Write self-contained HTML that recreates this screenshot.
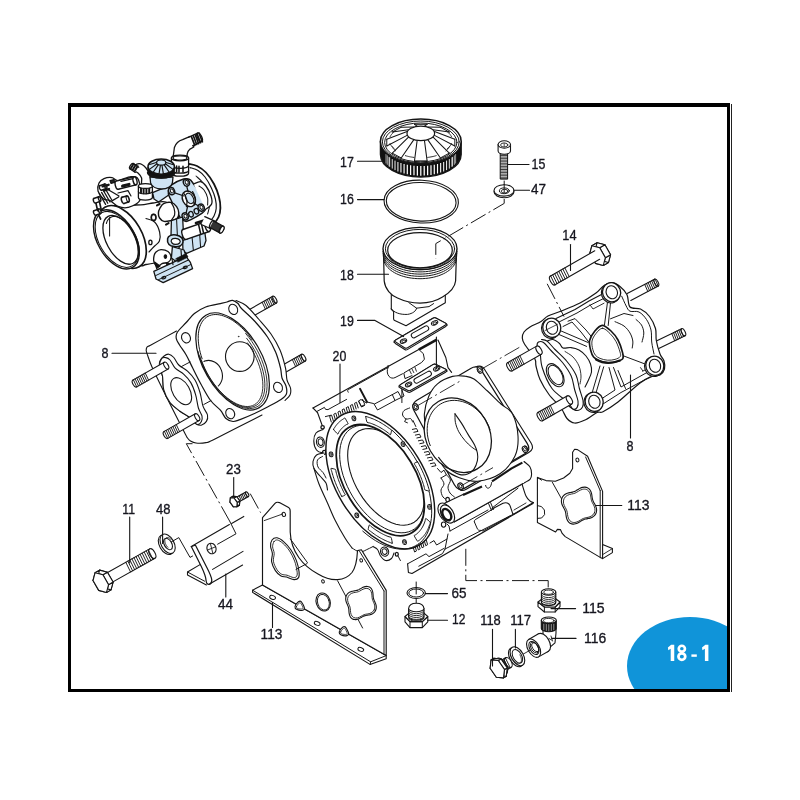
<!DOCTYPE html>
<html><head><meta charset="utf-8"><title>18-1</title>
<style>
html,body{margin:0;padding:0;background:#fff;}
body{width:800px;height:800px;overflow:hidden;position:relative;font-family:"Liberation Sans",sans-serif;}
svg{position:absolute;left:0;top:0;will-change:transform;opacity:0.999;}
svg text{font-family:"Liberation Sans",sans-serif;fill:#16161f;stroke:#16161f;stroke-width:0.35px;}
.badge{position:absolute;left:627px;top:616.5px;width:126px;height:98px;border-radius:50%;background:#1094d9;}
.clip{position:absolute;left:71px;top:107px;width:656px;height:581.5px;overflow:hidden;}
.clip .badge{left:556px;top:509.5px;}
.num{position:absolute;left:660px;top:640px;width:58px;text-align:center;color:#fff;font-weight:bold;font-size:23.6px;line-height:26px;transform:scaleX(0.715);transform-origin:50% 50%;white-space:nowrap;letter-spacing:0;}
.fr{position:absolute;background:#000;}
</style></head><body>
<svg width="800" height="800" viewBox="0 0 800 800" fill="none" stroke="#151515" stroke-width="1" stroke-linecap="round" stroke-linejoin="round">
<g stroke="#141414"><path d="M188.6 163.8C190 164.17 194.1 164.55 197 166C199.9 167.45 203.17 169.5 206 172.5C208.83 175.5 211.83 179.92 214 184C216.17 188.08 217.93 193 219 197C220.07 201 220.47 204.67 220.4 208C220.33 211.33 219.75 214.33 218.6 217C217.45 219.67 215.27 222.17 213.5 224C211.73 225.83 208.92 227.33 208 228" fill="#fff" stroke-width="1.81" /><path d="M190 167.6C191.33 168.07 195.5 168.83 198 170.4C200.5 171.97 202.77 174.07 205 177C207.23 179.93 209.67 184.33 211.4 188C213.13 191.67 214.6 195.58 215.4 199C216.2 202.42 216.43 205.67 216.2 208.5C215.97 211.33 215.1 213.75 214 216C212.9 218.25 210.33 221 209.6 222" fill="none" stroke-width="1.17" /><path d="M196 176C197.17 177.17 201 180 203 183C205 186 206.9 190.33 208 194C209.1 197.67 209.67 201.67 209.6 205C209.53 208.33 207.93 212.5 207.6 214" fill="none" stroke-width="1.03" /><path d="M110 207.5C114.33 204.25 120.33 205.98 126 205.5C131.67 205.02 139.5 205.02 144 204.6C148.5 204.18 149.33 203.43 153 203C156.67 202.57 162.17 200.5 166 202C169.83 203.5 173.33 207.33 176 212C178.67 216.67 181.33 224.33 182 230C182.67 235.67 182 241.67 180 246C178 250.33 173.67 253.33 170 256C166.33 258.67 162 260.58 158 262C154 263.42 149.33 264 146 264.5C142.67 265 143.67 267.42 138 265C132.33 262.58 118.33 256.67 112 250C105.67 243.33 100.33 232.08 100 225C99.67 217.92 105.67 210.75 110 207.5Z" fill="#fff" stroke-width="1.3" /><ellipse cx="122" cy="237" rx="34.4" ry="19.85" fill="#fff" stroke-width="1.68" transform="rotate(60 122 237)" /><path d="M146 218.5C147.43 219.08 152.33 219.75 154.6 222C156.87 224.25 158.8 228.83 159.6 232C160.4 235.17 160.23 238.67 159.4 241C158.57 243.33 156.33 244.17 154.6 246C152.87 247.83 149.93 251 149 252" fill="none" stroke-width="1.17" /><ellipse cx="150.4" cy="242.4" rx="1.6" ry="2.2" fill="none" stroke-width="1.3" /><ellipse cx="153.6" cy="217.4" rx="2.2" ry="3" fill="#fff" stroke-width="1.3" /><ellipse cx="116.4" cy="239.4" rx="32.4" ry="18.69" fill="#fff" stroke-width="1.43" transform="rotate(60 116.4 239.4)" /><ellipse cx="116.8" cy="239.4" rx="30.6" ry="17.66" fill="none" stroke-width="1.03" transform="rotate(60 116.8 239.4)" /><ellipse cx="120.6" cy="239.8" rx="26.6" ry="14.2" fill="none" stroke-width="1.3" transform="rotate(62 120.6 239.8)" /><polyline points="106.36,223.52 106.74,222.27 107.23,221.12 107.81,220.08 108.48,219.17 109.23,218.39 110.07,217.73 110.99,217.22 111.98,216.84 113.03,216.6 114.14,216.51 115.31,216.56 116.52,216.75 117.77,217.09 119.04,217.56 120.34,218.18 121.66,218.92 122.97,219.8 124.29,220.8 125.6,221.91 126.88,223.14 128.15,224.47 129.37,225.89 130.56,227.4 131.69,228.98 132.77,230.64 133.79,232.34 134.74,234.1 135.61,235.89 136.41,237.7 137.11,239.53 137.73,241.36 138.26,243.17 138.69,244.97 139.02,246.74 139.25,248.46 139.37,250.13 139.39,251.74 139.31,253.27 139.13,254.72 138.84,256.08" fill="none" stroke-width="1.03" /><line x1="109.6" y1="217.6" x2="109.6" y2="236" stroke-width="1.03" /><path d="M99 183C100 180.93 101.83 179.5 104 178.6C106.17 177.7 109.67 177.27 112 177.6C114.33 177.93 114.83 180.77 118 180.6C121.17 180.43 127.57 176.7 131 176.6C134.43 176.5 137.1 176.1 138.6 180C140.1 183.9 141.77 195.43 140 200C138.23 204.57 131.67 206.33 128 207.4C124.33 208.47 121 207.53 118 206.4C115 205.27 112.4 201.83 110 200.6C107.6 199.37 105.6 200.6 103.6 199C101.6 197.4 98.77 193.67 98 191C97.23 188.33 98 185.07 99 183Z" fill="#fff" stroke-width="1.3" /><polygon points="118.21,189.28 136.01,184.88 133.99,176.72 116.19,181.12" fill="#fff" stroke="none"/><ellipse cx="135" cy="180.8" rx="1.89" ry="4.2" fill="#fff" stroke-width="1.43" transform="rotate(-13.88 135 180.8)" /><ellipse cx="117.2" cy="185.2" rx="1.89" ry="4.2" fill="#fff" stroke-width="1.43" transform="rotate(-13.88 117.2 185.2)" /><polygon points="118.21,189.28 122.29,188.27 120.27,180.11 116.19,181.12" fill="#fff" stroke="none"/><line x1="118.21" y1="189.28" x2="136.01" y2="184.88" stroke-width="1.43" /><line x1="116.19" y1="181.12" x2="133.99" y2="176.72" stroke-width="1.43" /><path d="M121 181.4 L133 178.6" fill="none" stroke-width="1.3" /><path d="M122.6 186 L129 184.4" fill="none" stroke-width="3.11" /><path d="M110 180.6 L114 179.6 L114.6 182.4 L111 183.4 Z" fill="#222" stroke-width="1.3" /><path d="M99.4 193.6 L105.6 204.4 M101.6 192.4 L107.8 203.2 M103.8 191.2 L110 202 M106 190 L112.2 200.8" fill="none" stroke-width="1.3" /><path d="M107 189 L119 196 M112.4 200.6 L118.6 197" fill="none" stroke-width="1.3" /><polygon points="101.41,190.26 106.41,188.46 104.79,183.94 99.79,185.74" fill="#fff" stroke="none"/><ellipse cx="105.6" cy="186.2" rx="1.08" ry="2.4" fill="#fff" stroke-width="1.43" transform="rotate(-19.8 105.6 186.2)" /><ellipse cx="100.6" cy="188" rx="1.08" ry="2.4" fill="#fff" stroke-width="1.43" transform="rotate(-19.8 100.6 188)" /><polygon points="101.41,190.26 103.67,189.45 102.05,184.93 99.79,185.74" fill="#fff" stroke="none"/><line x1="101.41" y1="190.26" x2="106.41" y2="188.46" stroke-width="1.43" /><line x1="99.79" y1="185.74" x2="104.79" y2="183.94" stroke-width="1.43" /><polygon points="95.41,203.06 100.41,201.26 98.79,196.74 93.79,198.54" fill="#fff" stroke="none"/><ellipse cx="99.6" cy="199" rx="1.08" ry="2.4" fill="#fff" stroke-width="1.43" transform="rotate(-19.8 99.6 199)" /><ellipse cx="94.6" cy="200.8" rx="1.08" ry="2.4" fill="#fff" stroke-width="1.43" transform="rotate(-19.8 94.6 200.8)" /><polygon points="95.41,203.06 97.67,202.25 96.05,197.73 93.79,198.54" fill="#fff" stroke="none"/><line x1="95.41" y1="203.06" x2="100.41" y2="201.26" stroke-width="1.43" /><line x1="93.79" y1="198.54" x2="98.79" y2="196.74" stroke-width="1.43" /><polygon points="95.61,215.26 100.61,213.46 98.99,208.94 93.99,210.74" fill="#fff" stroke="none"/><ellipse cx="99.8" cy="211.2" rx="1.08" ry="2.4" fill="#fff" stroke-width="1.43" transform="rotate(-19.8 99.8 211.2)" /><ellipse cx="94.8" cy="213" rx="1.08" ry="2.4" fill="#fff" stroke-width="1.43" transform="rotate(-19.8 94.8 213)" /><polygon points="95.61,215.26 97.87,214.45 96.25,209.93 93.99,210.74" fill="#fff" stroke="none"/><line x1="95.61" y1="215.26" x2="100.61" y2="213.46" stroke-width="1.43" /><line x1="93.99" y1="210.74" x2="98.99" y2="208.94" stroke-width="1.43" /><path d="M96 203.4 L97.6 210.6 M99.6 202.4 L101.2 209.6 M98.6 215 L100.6 219" fill="none" stroke-width="1.68" /><path d="M102.6 186.4 L108.6 184.8 M104 190.6 L109 189" fill="none" stroke-width="2.33" /><polygon points="123.93,203.46 128.53,202.06 126.67,195.94 122.07,197.34" fill="#fff" stroke="none"/><ellipse cx="127.6" cy="199" rx="1.44" ry="3.2" fill="#fff" stroke-width="1.56" transform="rotate(-16.93 127.6 199)" /><ellipse cx="123" cy="200.4" rx="1.44" ry="3.2" fill="#fff" stroke-width="1.56" transform="rotate(-16.93 123 200.4)" /><polygon points="123.93,203.46 126.99,202.53 125.13,196.41 122.07,197.34" fill="#fff" stroke="none"/><line x1="123.93" y1="203.46" x2="128.53" y2="202.06" stroke-width="1.56" /><line x1="122.07" y1="197.34" x2="126.67" y2="195.94" stroke-width="1.56" /><path d="M118 193 L128 190.6 L131 196" fill="none" stroke-width="1.17" /><path d="M131.2 168.4C131.03 169.97 136.27 171.4 138 173C139.73 174.6 140.93 175.83 141.6 178C142.27 180.17 140.5 184.67 142 186C143.5 187.33 149.27 187.67 150.6 186C151.93 184.33 150.77 179 150 176C149.23 173 147.83 170.07 146 168C144.17 165.93 141.47 163.53 139 163.6C136.53 163.67 131.37 166.83 131.2 168.4Z" fill="#fff" stroke-width="1.3" /><polygon points="129.88,168.78 135.28,172.38 138.72,167.22 133.32,163.62" fill="#fff" stroke="none"/><ellipse cx="131.6" cy="166.2" rx="1.4" ry="3.1" fill="#fff" stroke-width="1.3" transform="rotate(33.69 131.6 166.2)" /><polygon points="129.88,168.78 132.46,170.5 135.9,165.34 133.32,163.62" fill="#fff" stroke="none"/><line x1="129.88" y1="168.78" x2="135.28" y2="172.38" stroke-width="1.3" /><line x1="133.32" y1="163.62" x2="138.72" y2="167.22" stroke-width="1.3" /><path d="M130.6 168.8 L133.6 163.8 M132.6 170 L135.6 165 M134.6 171.2 L137.6 166.2" fill="none" stroke-width="1.95" /><path d="M138.4 186 L138.4 197.6 A7 2.6 0 0 0 152.4 197.6 L152.4 186 Z" fill="#fff" stroke-width="1.3" /><path d="M138.4 191.4 A7 2.4 0 0 0 152.4 191.4" fill="none" stroke-width="1.17" /><path d="M141 187.4 L141 192.4 M143.6 188 L143.6 193.2 M146.4 188 L146.4 193.2 M149.2 187.6 L149.2 192.8" fill="none" stroke-width="1.95" /><ellipse cx="145.4" cy="186" rx="7" ry="2.4" fill="#fff" stroke-width="1.3" /><path d="M173 158 L174.4 147.5 C176 142.6 179 140.6 182.6 139.6 L190.2 136.4 L193.8 147 L189.6 149.4 C188 150.6 187.5 152 187.2 154 L187 158 Z" fill="#fff" stroke-width="1.3" /><polygon points="192.66,145.82 201.66,141.42 197.54,132.98 188.54,137.38" fill="#fff" stroke="none"/><ellipse cx="199.6" cy="137.2" rx="2.12" ry="4.7" fill="#fff" stroke-width="1.3" transform="rotate(-26.05 199.6 137.2)" /><line x1="192.66" y1="145.82" x2="201.66" y2="141.42" stroke-width="1.3" /><line x1="188.54" y1="137.38" x2="197.54" y2="132.98" stroke-width="1.3" /><line x1="191.4" y1="136.6" x2="194.8" y2="145.4" stroke-width="1.68" /><line x1="193.3" y1="135.7" x2="196.7" y2="144.5" stroke-width="1.68" /><line x1="195.2" y1="134.8" x2="198.6" y2="143.6" stroke-width="1.68" /><line x1="197.1" y1="133.9" x2="200.5" y2="142.7" stroke-width="1.68" /><line x1="199" y1="133" x2="202.4" y2="141.8" stroke-width="1.68" /><path d="M171.4 158 L171.4 173.2 A8.6 3 0 0 0 188.6 173.2 L188.6 158 Z" fill="#fff" stroke-width="1.3" /><path d="M171.4 165.6 A8.6 2.8 0 0 0 188.6 165.6 M171.4 170.4 A8.6 2.8 0 0 0 188.6 170.4" fill="none" stroke-width="1.17" /><path d="M176.6 166 L176.6 171.8 M179 166.4 L179 172.2 M183 166.2 L183 172" fill="none" stroke-width="1.56" /><ellipse cx="180" cy="158" rx="8.6" ry="2.8" fill="#fff" stroke-width="1.3" /><ellipse cx="180" cy="158" rx="6.8" ry="2" fill="none" stroke-width="1.03" /><polygon points="152.6,192.6 171.6,184.6 176,190 158.6,202 154,199" fill="#cfe4f4" stroke-width="1.3" /><path d="M168.8 189C169.4 187.43 169.53 186.27 172 184.6C174.47 182.93 180.67 179.87 183.6 179C186.53 178.13 187.93 178.57 189.6 179.4C191.27 180.23 191.87 181.73 193.6 184C195.33 186.27 198.17 189.83 200 193C201.83 196.17 203.7 200.23 204.6 203C205.5 205.77 205.93 207.83 205.4 209.6C204.87 211.37 203.8 211.93 201.4 213.6C199 215.27 193.63 218.3 191 219.6C188.37 220.9 187.33 221.67 185.6 221.4C183.87 221.13 182.2 219.9 180.6 218C179 216.1 177.6 213 176 210C174.4 207 172.27 202.67 171 200C169.73 197.33 168.77 195.83 168.4 194C168.03 192.17 168.2 190.57 168.8 189Z" fill="#cfe4f4" stroke-width="1.43" /><path d="M193.6 184C194.77 183.6 198.53 181.27 200.6 181.6C202.67 181.93 204.27 183.6 206 186C207.73 188.4 210.07 193 211 196C211.93 199 212.53 201.73 211.6 204C210.67 206.27 206.43 208.67 205.4 209.6" fill="#fff" stroke-width="1.3" /><path d="M199 186C199.83 186.67 202.57 188 204 190C205.43 192 207 195.5 207.6 198C208.2 200.5 207.6 203.83 207.6 205" fill="none" stroke-width="1.03" /><ellipse cx="188.8" cy="198.8" rx="6.2" ry="8.2" fill="#fff" stroke-width="1.43" transform="rotate(-28 188.8 198.8)" /><ellipse cx="189.6" cy="198.4" rx="3.6" ry="5.6" fill="#cfe4f4" stroke-width="1.17" transform="rotate(-28 189.6 198.4)" /><path d="M184 193.6 C186.6 197 187.6 202 186.4 206.6 M192.6 191.6 C195 195 196 200 194.6 205" fill="none" stroke-width="1.17" /><path d="M174 192.6 L184 196 M186.6 185.6 L188 191.4 M198.6 206 L193.6 203 M186 213.6 L187.6 206.4" fill="none" stroke-width="1.3" /><ellipse cx="171.6" cy="191.2" rx="3" ry="3.6" fill="#cfe4f4" stroke-width="1.43" transform="rotate(-20 171.6 191.2)" /><ellipse cx="171.9" cy="191" rx="1.5" ry="2" fill="#fff" stroke-width="1.03" transform="rotate(-20 171.9 191)" /><ellipse cx="186.4" cy="182.6" rx="3" ry="3.6" fill="#cfe4f4" stroke-width="1.43" transform="rotate(-20 186.4 182.6)" /><ellipse cx="186.7" cy="182.4" rx="1.5" ry="2" fill="#fff" stroke-width="1.03" transform="rotate(-20 186.7 182.4)" /><ellipse cx="201.2" cy="207.6" rx="3" ry="3.6" fill="#cfe4f4" stroke-width="1.43" transform="rotate(-20 201.2 207.6)" /><ellipse cx="201.5" cy="207.4" rx="1.5" ry="2" fill="#fff" stroke-width="1.03" transform="rotate(-20 201.5 207.4)" /><ellipse cx="185.2" cy="216.4" rx="3" ry="3.6" fill="#cfe4f4" stroke-width="1.43" transform="rotate(-20 185.2 216.4)" /><ellipse cx="185.5" cy="216.2" rx="1.5" ry="2" fill="#fff" stroke-width="1.03" transform="rotate(-20 185.5 216.2)" /><ellipse cx="196.4" cy="211.2" rx="2.2" ry="2.8" fill="#cfe4f4" stroke-width="1.3" transform="rotate(-20 196.4 211.2)" /><ellipse cx="191" cy="214.2" rx="2.2" ry="2.8" fill="#cfe4f4" stroke-width="1.3" transform="rotate(-20 191 214.2)" /><path d="M160 208C160.87 206.43 161.77 204.53 163.6 203.6C165.43 202.67 168.83 201.9 171 202.4C173.17 202.9 175.3 204.83 176.6 206.6C177.9 208.37 178.73 211 178.8 213C178.87 215 178.3 217.33 177 218.6C175.7 219.87 173.17 220.13 171 220.6C168.83 221.07 165.9 221.83 164 221.4C162.1 220.97 160.53 219.4 159.6 218C158.67 216.6 158.33 214.67 158.4 213C158.47 211.33 159.13 209.57 160 208Z" fill="#fff" stroke-width="1.43" /><path d="M171 202.4C171.5 203.33 173.4 205.9 174 208C174.6 210.1 175.1 212.9 174.6 215C174.1 217.1 171.6 219.67 171 220.6" fill="none" stroke-width="1.17" /><ellipse cx="153.6" cy="217.4" rx="2.3" ry="3" fill="#fff" stroke-width="1.56" /><path d="M157 205.4 L159.6 204 M166 224.6 L168.6 223.2" fill="none" stroke-width="2.08" /><polygon points="171.4,220.6 182.6,217 183.6,236 181,241 172.4,243 171,236" fill="#cfe4f4" stroke-width="1.3" /><path d="M176.6 219.6 L177.6 240" fill="none" stroke-width="1.03" /><polygon points="182.6,240.6 204.6,231 206,240.6 204,246 186.6,253.4 183,251" fill="#cfe4f4" stroke-width="1.3" /><path d="M192 236.6 L193.4 250.6 M199.6 233.4 L200.6 247.4" fill="none" stroke-width="1.03" /><polygon points="186.27,239.32 209.27,231.52 205.93,221.68 182.93,229.48" fill="#fff" stroke="none"/><ellipse cx="207.6" cy="226.6" rx="2.34" ry="5.2" fill="#fff" stroke-width="1.43" transform="rotate(-18.73 207.6 226.6)" /><ellipse cx="184.6" cy="234.4" rx="2.34" ry="5.2" fill="#fff" stroke-width="1.43" transform="rotate(-18.73 184.6 234.4)" /><polygon points="186.27,239.32 191.19,237.65 187.85,227.81 182.93,229.48" fill="#fff" stroke="none"/><line x1="186.27" y1="239.32" x2="209.27" y2="231.52" stroke-width="1.43" /><line x1="182.93" y1="229.48" x2="205.93" y2="221.68" stroke-width="1.43" /><path d="M198.6 224.6 L200.8 234.4 M201.4 223.6 L203.6 233.2" fill="none" stroke-width="1.56" /><path d="M196 223 L204 220.4" fill="none" stroke-width="2.6" /><path d="M167.6 238.6C167.87 237.07 169.2 236 170.6 235.4C172 234.8 174.17 234.63 176 235C177.83 235.37 180.43 236.43 181.6 237.6C182.77 238.77 183.17 240.67 183 242C182.83 243.33 182 244.83 180.6 245.6C179.2 246.37 176.53 246.77 174.6 246.6C172.67 246.43 170.17 245.93 169 244.6C167.83 243.27 167.33 240.13 167.6 238.6Z" fill="#cfe4f4" stroke-width="1.56" /><path d="M171.6 239.6C172.2 238.83 174.27 238.33 175.6 238.4C176.93 238.47 178.93 239.23 179.6 240C180.27 240.77 180.27 242.27 179.6 243C178.93 243.73 176.87 244.4 175.6 244.4C174.33 244.4 172.67 243.8 172 243C171.33 242.2 171 240.37 171.6 239.6Z" fill="#fff" stroke-width="1.17" /><polygon points="201.25,224.53 210.25,228.53 213.75,220.67 204.75,216.67" fill="#fff" stroke="none"/><ellipse cx="212" cy="224.6" rx="1.94" ry="4.3" fill="#fff" stroke-width="1.3" transform="rotate(23.96 212 224.6)" /><line x1="201.25" y1="224.53" x2="210.25" y2="228.53" stroke-width="1.3" /><line x1="204.75" y1="216.67" x2="213.75" y2="220.67" stroke-width="1.3" /><polygon points="209.79,227.54 219.79,232.94 223.41,226.26 213.41,220.86" fill="#333" stroke="none"/><ellipse cx="221.6" cy="229.6" rx="1.71" ry="3.8" fill="#333" stroke-width="1.3" transform="rotate(28.37 221.6 229.6)" /><line x1="209.79" y1="227.54" x2="219.79" y2="232.94" stroke-width="1.3" /><line x1="213.41" y1="220.86" x2="223.41" y2="226.26" stroke-width="1.3" /><ellipse cx="221.8" cy="229.7" rx="1.7" ry="3.7" fill="#fff" stroke-width="1.17" transform="rotate(28 221.8 229.7)" /><polygon points="172.4,246.6 184,250 186,256 176,261.6 171.4,258" fill="#cfe4f4" stroke-width="1.3" /><path d="M156 252C157.17 250.93 159 249.67 161 249.6C163 249.53 166.33 250.37 168 251.6C169.67 252.83 170.9 255.27 171 257C171.1 258.73 170.1 260.9 168.6 262C167.1 263.1 163.83 262.83 162 263.6C160.17 264.37 158.93 266.87 157.6 266.6C156.27 266.33 154.6 263.77 154 262C153.4 260.23 153.67 257.67 154 256C154.33 254.33 154.83 253.07 156 252Z" fill="#fff" stroke-width="1.3" /><ellipse cx="165.4" cy="256.6" rx="1.3" ry="1.8" fill="#111" stroke-width="1.03" /><path d="M154.6 262 L156.6 268.6 L160 266 Z" fill="#111" stroke-width="1.03" /><path d="M166 263 L168.6 268 L172 264 Z" fill="#111" stroke-width="1.03" /><polygon points="153.8,271.4 186,256.4 190.4,262.4 192.6,268.6 163.2,282.6 156,279" fill="#cfe4f4" stroke-width="1.3" /><path d="M155.6 275.6 L188.4 260 M158.6 279.6 L190.6 264.6" fill="none" stroke-width="1.03" /><ellipse cx="163.8" cy="277.6" rx="2" ry="1.1" fill="none" stroke-width="1.3" transform="rotate(-20 163.8 277.6)" /><ellipse cx="185.2" cy="267.4" rx="2" ry="1.1" fill="none" stroke-width="1.3" transform="rotate(-20 185.2 267.4)" /><path d="M181 250 L181.6 258 M172 259 L173 264.6" fill="none" stroke-width="1.17" /><path d="M176 258.6 L186 253.6 L188 257 L178 262 Z" fill="#111" stroke-width="0.78" /><path d="M150 177 L150.6 183 C152 187 157 189 161.6 189 C167 189 171.6 186.6 172.4 183 L173 177 Z" fill="#cfe4f4" stroke-width="1.3" /><path d="M148 167.6 L148.4 173.6 A12.8 4.4 0 0 0 174 173.6 L174.4 167.6 Z" fill="#111" stroke-width="1.3" /><path d="M148 172.6 A13 4.8 0 0 0 174.4 172.6" fill="none" stroke-width="2.33" /><ellipse cx="161.2" cy="166.6" rx="13.2" ry="7.6" fill="#cfe4f4" stroke-width="1.56" /><line x1="165.33" y1="163.75" x2="172.66" y2="169.13" stroke-width="1.17" /><line x1="164.03" y1="164.69" x2="169.04" y2="172.01" stroke-width="1.17" /><line x1="161.96" y1="165.17" x2="163.32" y2="173.5" stroke-width="1.17" /><line x1="160.44" y1="165.17" x2="159.08" y2="173.5" stroke-width="1.17" /><line x1="158.37" y1="164.69" x2="153.36" y2="172.01" stroke-width="1.17" /><line x1="157.07" y1="163.75" x2="149.74" y2="169.13" stroke-width="1.17" /><line x1="157.07" y1="162.25" x2="149.74" y2="164.47" stroke-width="1.17" /><line x1="165.33" y1="162.25" x2="172.66" y2="164.47" stroke-width="1.17" /><ellipse cx="161.2" cy="162.6" rx="4.6" ry="2.6" fill="#cfe4f4" stroke-width="1.17" /></g>
<polygon points="572.6,452.2 574.6,449.2 577.5,449.6 587.6,456.2 602.6,491.4 602.6,558.6 600.2,557.4 565.2,536.6 562.2,533.4 560.4,529.6 557.4,529.4 555.6,532 537.4,522.4 537.4,477.4 546,480.6 555.4,481.2 563.6,478 569.8,473.2 572.6,468.5" fill="#fff" stroke-width="1.1" /><path d="M600.2 490.6 L600.2 557.4 M585.6 457 L600.2 490.6" fill="none" stroke-width="0.99" /><polygon points="602.6,558.6 612.4,552.6 612.4,548.6 602.6,544.4" fill="#fff" stroke-width="1.1" /><path d="M612.4 548.6 L603 554.4" fill="none" stroke-width="0.88" /><path d="M552.4 482.4 L565 505 M537.4 477.4 L541.6 480.2" fill="none" stroke-width="0.99" /><path d="M537.4 505.6 L541.5 506.6 L544.4 510 L544.6 514.6 L541.6 518 L537.4 518.4" fill="none" stroke-width="0.99" /><ellipse cx="577.4" cy="460" rx="1.5" ry="1.9" fill="none" stroke-width="0.99" transform="rotate(-20 577.4 460)" /><path d="M595.9 513.48C595.54 514.25 595.01 514.98 594.42 515.6C593.83 516.21 593.08 516.73 592.34 517.15C591.61 517.56 590.77 517.86 589.99 518.11C589.2 518.36 588.39 518.5 587.65 518.66C586.91 518.82 586.2 518.91 585.53 519.08C584.87 519.24 584.26 519.4 583.65 519.65C583.04 519.89 582.48 520.19 581.87 520.53C581.26 520.88 580.67 521.3 580 521.7C579.34 522.1 578.64 522.57 577.89 522.92C577.14 523.28 576.33 523.64 575.51 523.84C574.7 524.04 573.83 524.16 573.01 524.11C572.2 524.06 571.37 523.86 570.64 523.52C569.92 523.18 569.23 522.67 568.67 522.08C568.11 521.49 567.64 520.74 567.27 519.99C566.9 519.24 566.65 518.39 566.44 517.58C566.24 516.78 566.14 515.95 566.02 515.18C565.9 514.42 565.84 513.69 565.71 513C565.59 512.31 565.46 511.69 565.25 511.07C565.04 510.44 564.78 509.88 564.48 509.26C564.17 508.64 563.79 508.04 563.43 507.37C563.08 506.7 562.66 505.99 562.35 505.23C562.04 504.47 561.73 503.63 561.58 502.8C561.42 501.96 561.34 501.06 561.43 500.21C561.52 499.37 561.74 498.49 562.1 497.72C562.46 496.95 562.99 496.22 563.58 495.6C564.17 494.99 564.92 494.47 565.66 494.05C566.39 493.64 567.23 493.34 568.01 493.09C568.8 492.84 569.61 492.7 570.35 492.54C571.09 492.38 571.8 492.29 572.47 492.12C573.13 491.96 573.74 491.8 574.35 491.55C574.96 491.31 575.52 491.01 576.13 490.67C576.74 490.32 577.33 489.9 578 489.5C578.66 489.1 579.36 488.63 580.11 488.28C580.86 487.92 581.67 487.56 582.49 487.36C583.3 487.16 584.17 487.04 584.99 487.09C585.8 487.14 586.63 487.34 587.36 487.68C588.08 488.02 588.77 488.53 589.33 489.12C589.89 489.71 590.36 490.46 590.73 491.21C591.1 491.96 591.35 492.81 591.56 493.62C591.76 494.42 591.86 495.25 591.98 496.02C592.1 496.78 592.16 497.51 592.29 498.2C592.41 498.89 592.54 499.51 592.75 500.13C592.96 500.76 593.22 501.32 593.52 501.94C593.83 502.56 594.21 503.16 594.57 503.83C594.92 504.5 595.34 505.21 595.65 505.97C595.96 506.73 596.27 507.57 596.42 508.4C596.58 509.24 596.66 510.14 596.57 510.99C596.48 511.83 596.26 512.71 595.9 513.48Z" fill="#fff" stroke-width="1.1" /><path d="M594.36 512.87C594.03 513.56 593.56 514.23 593.03 514.78C592.49 515.33 591.82 515.8 591.16 516.18C590.49 516.56 589.74 516.83 589.04 517.06C588.33 517.29 587.61 517.41 586.94 517.56C586.27 517.71 585.64 517.79 585.04 517.94C584.44 518.09 583.89 518.24 583.34 518.46C582.8 518.68 582.29 518.95 581.75 519.26C581.2 519.57 580.66 519.96 580.06 520.32C579.47 520.68 578.84 521.1 578.16 521.42C577.49 521.75 576.76 522.07 576.03 522.25C575.3 522.43 574.51 522.55 573.78 522.5C573.05 522.46 572.3 522.28 571.65 521.98C571.01 521.68 570.39 521.22 569.89 520.69C569.38 520.16 568.97 519.48 568.63 518.81C568.3 518.13 568.08 517.36 567.9 516.64C567.71 515.91 567.63 515.16 567.52 514.47C567.41 513.78 567.37 513.12 567.25 512.5C567.14 511.88 567.02 511.32 566.84 510.76C566.66 510.2 566.42 509.69 566.15 509.13C565.88 508.58 565.53 508.03 565.22 507.43C564.9 506.82 564.53 506.19 564.25 505.5C563.98 504.82 563.7 504.07 563.56 503.31C563.42 502.56 563.35 501.74 563.43 500.98C563.51 500.22 563.72 499.43 564.04 498.73C564.37 498.04 564.84 497.37 565.37 496.82C565.91 496.27 566.58 495.8 567.24 495.42C567.91 495.04 568.66 494.77 569.36 494.54C570.07 494.31 570.79 494.19 571.46 494.04C572.13 493.89 572.76 493.81 573.36 493.66C573.96 493.51 574.51 493.36 575.06 493.14C575.6 492.92 576.11 492.65 576.65 492.34C577.2 492.03 577.74 491.64 578.34 491.28C578.93 490.92 579.56 490.5 580.24 490.18C580.91 489.85 581.64 489.53 582.37 489.35C583.1 489.17 583.89 489.05 584.62 489.1C585.35 489.14 586.1 489.32 586.75 489.62C587.39 489.92 588.01 490.38 588.51 490.91C589.02 491.44 589.43 492.12 589.77 492.79C590.1 493.47 590.32 494.24 590.5 494.96C590.69 495.69 590.77 496.44 590.88 497.13C590.99 497.82 591.03 498.48 591.15 499.1C591.26 499.72 591.38 500.28 591.56 500.84C591.74 501.4 591.98 501.91 592.25 502.47C592.52 503.02 592.87 503.57 593.18 504.17C593.5 504.78 593.87 505.41 594.15 506.1C594.42 506.78 594.7 507.53 594.84 508.29C594.98 509.04 595.05 509.86 594.97 510.62C594.89 511.38 594.68 512.17 594.36 512.87Z" fill="#fff" stroke-width="0.88" />
<polygon points="630.81,300.45 658.21,286.05 654.59,279.15 627.19,293.55" fill="#fff" stroke="none"/><ellipse cx="656.4" cy="282.6" rx="1.75" ry="3.9" fill="#fff" stroke-width="1.1" transform="rotate(-27.72 656.4 282.6)" /><line x1="630.81" y1="300.45" x2="658.21" y2="286.05" stroke-width="1.1" /><line x1="627.19" y1="293.55" x2="654.59" y2="279.15" stroke-width="1.1" /><line x1="647.8" y1="291.52" x2="644.7" y2="284.34" stroke-width="0.94" /><line x1="649.53" y1="290.62" x2="646.43" y2="283.43" stroke-width="0.94" /><line x1="651.25" y1="289.71" x2="648.16" y2="282.53" stroke-width="0.94" /><line x1="652.98" y1="288.8" x2="649.88" y2="281.62" stroke-width="0.94" /><line x1="654.71" y1="287.9" x2="651.61" y2="280.71" stroke-width="0.94" /><line x1="656.43" y1="286.99" x2="653.34" y2="279.8" stroke-width="0.94" /><line x1="658.16" y1="286.08" x2="655.06" y2="278.9" stroke-width="0.94" /><polygon points="657.71,349.1 685.11,335.7 681.69,328.7 654.29,342.1" fill="#fff" stroke="none"/><ellipse cx="683.4" cy="332.2" rx="1.75" ry="3.9" fill="#fff" stroke-width="1.1" transform="rotate(-26.06 683.4 332.2)" /><line x1="657.71" y1="349.1" x2="685.11" y2="335.7" stroke-width="1.1" /><line x1="654.29" y1="342.1" x2="681.69" y2="328.7" stroke-width="1.1" /><line x1="674.7" y1="340.8" x2="671.81" y2="333.52" stroke-width="0.94" /><line x1="676.45" y1="339.94" x2="673.57" y2="332.67" stroke-width="0.94" /><line x1="678.2" y1="339.08" x2="675.32" y2="331.81" stroke-width="0.94" /><line x1="679.96" y1="338.23" x2="677.07" y2="330.95" stroke-width="0.94" /><line x1="681.71" y1="337.37" x2="678.82" y2="330.1" stroke-width="0.94" /><line x1="683.46" y1="336.51" x2="680.57" y2="329.24" stroke-width="0.94" /><path d="M603.5 286C606.17 284.27 609.25 282.52 612 282.6C614.75 282.68 617.5 284.48 620 286.5C622.5 288.52 625.33 291.28 627 294.7C628.67 298.12 627.75 304.62 630 307C632.25 309.38 637.25 307.42 640.5 309C643.75 310.58 647 313.25 649.5 316.5C652 319.75 654.37 324.5 655.5 328.5C656.63 332.5 655.55 336.25 656.3 340.5C657.05 344.75 658.72 350.58 660 354C661.28 357.42 663.25 358.5 664 361C664.75 363.5 665.17 366.67 664.5 369C663.83 371.33 662.08 373.75 660 375C657.92 376.25 655.33 375.17 652 376.5C648.67 377.83 645.67 378.75 640 383C634.33 387.25 624.17 397.22 618 402C611.83 406.78 606.5 409.95 603 411.7C599.5 413.45 600 411.12 597 412.5C594 413.88 588.75 418.25 585 420C581.25 421.75 577.5 423.25 574.5 423C571.5 422.75 569.25 421 567 418.5C564.75 416 564 412 561 408C558 404 552.5 399.25 549 394.5C545.5 389.75 542.17 384.25 540 379.5C537.83 374.75 536.88 369.5 536 366C535.12 362.5 536.62 362.17 534.7 358.5C532.78 354.83 526.57 347.42 524.5 344C522.43 340.58 522.38 340 522.3 338C522.22 336 522.72 333.83 524 332C525.28 330.17 527.17 328.75 530 327C532.83 325.25 538 323.33 541 321.5C544 319.67 544.83 317.67 548 316C551.17 314.33 554.67 313.67 560 311.5C565.33 309.33 574 306.08 580 303C586 299.92 592.08 295.83 596 293C599.92 290.17 600.83 287.73 603.5 286Z" fill="#fff" stroke-width="1.21" /><path d="M621.7 296.2C622.45 297.83 624.82 303.5 626.2 306C627.58 308.5 627.87 310.2 630 311.2C632.13 312.2 636.25 310.62 639 312C641.75 313.38 644.5 316.5 646.5 319.5C648.5 322.5 650.13 326.25 651 330C651.87 333.75 651.2 338 651.7 342C652.2 346 653.62 352 654 354" fill="none" stroke-width="0.99" /><path d="M556 318.5 L575 309.5 L589 301 L601.5 294.5" fill="none" stroke-width="1.1" /><path d="M559 322 L577 313 L590.5 305 L603 298.8" fill="none" stroke-width="0.99" /><path d="M590 304.8 L593 309 L604 303.2" fill="none" stroke-width="0.88" /><path d="M563 326.5 L572 322 L581 332 L589.5 343" fill="none" stroke-width="0.99" /><path d="M568 321.2 L575 318.6 L586 330 L592.5 338" fill="none" stroke-width="0.99" /><path d="M560 330.5 L588 342.5 M559 334.5 L586.6 346.4" fill="none" stroke-width="0.99" /><path d="M547.5 341C548.42 340.75 551 339.08 553 339.5C555 339.92 557.83 342.08 559.5 343.5C561.17 344.92 561.08 347.32 563 348C564.92 348.68 568.33 347.27 571 347.6C573.67 347.93 576.5 348.6 579 350C581.5 351.4 584.08 353.67 586 356C587.92 358.33 589.58 361.33 590.5 364C591.42 366.67 591.92 369.17 591.5 372C591.08 374.83 589.08 378.5 588 381C586.92 383.5 585.5 386 585 387" fill="none" stroke-width="1.1" /><path d="M565 351.5C566.33 352.42 570.67 354.58 573 357C575.33 359.42 577.67 362.83 579 366C580.33 369.17 580.83 373 581 376C581.17 379 580.17 382.67 580 384" fill="none" stroke-width="0.88" /><path d="M610.5 318.8 L624 313.5 L633 315.5" fill="none" stroke-width="0.99" /><path d="M615 321.7C616.5 322.42 621.5 324.12 624 326C626.5 327.88 628.53 330.5 630 333C631.47 335.5 632.43 338.5 632.8 341C633.17 343.5 632.3 346.83 632.2 348" fill="none" stroke-width="0.99" /><path d="M636 319.5C636.92 320.42 640.2 322.75 641.5 325C642.8 327.25 643.72 330.17 643.8 333C643.88 335.83 642.3 340.5 642 342" fill="none" stroke-width="0.99" /><path d="M607.5 302.2 L604.5 324.7 M610.5 303 L608.2 325.5" fill="none" stroke-width="0.99" /><path d="M622.5 355.5 L645 364" fill="none" stroke-width="0.99" /><path d="M642.5 371.2 L646 369.6 M640.5 367.6 L642.8 370.8" fill="none" stroke-width="0.88" /><path d="M600 366 L592.5 391.5 M603.7 366.8 L596.2 392.2" fill="none" stroke-width="0.99" /><path d="M609 367.5 L615 390 L600.5 399.5 M613.5 367.5 L621 387 L647 372.5 M618 370.5 L625.5 388.5" fill="none" stroke-width="0.99" /><path d="M603 404 L621 392.5 L650 377" fill="none" stroke-width="0.99" /><path d="M602.2 325.4C604.95 325.32 608.37 328.57 611 331C613.63 333.43 616.1 336.5 618 340C619.9 343.5 621.6 348.9 622.4 352C623.2 355.1 623.87 356.97 622.8 358.6C621.73 360.23 618.55 361.13 616 361.8C613.45 362.47 610.33 362.83 607.5 362.6C604.67 362.37 601.32 361.33 599 360.4C596.68 359.47 595 358.73 593.6 357C592.2 355.27 591.27 352.75 590.6 350C589.93 347.25 588.95 343.58 589.6 340.5C590.25 337.42 592.4 334.02 594.5 331.5C596.6 328.98 599.45 325.48 602.2 325.4Z" fill="#fff" stroke-width="1.65" /><path d="M602.4 328.2C604.73 328.2 607.73 331.28 610 333.5C612.27 335.72 614.33 338.42 616 341.5C617.67 344.58 619.3 349.48 620 352C620.7 354.52 621.03 355.37 620.2 356.6C619.37 357.83 617.12 358.8 615 359.4C612.88 360 610 360.37 607.5 360.2C605 360.03 602.02 359.23 600 358.4C597.98 357.57 596.6 356.68 595.4 355.2C594.2 353.72 593.37 351.87 592.8 349.5C592.23 347.13 591.47 343.67 592 341C592.53 338.33 594.27 335.63 596 333.5C597.73 331.37 600.07 328.2 602.4 328.2Z" fill="none" stroke-width="0.88" /><path d="M596 359.6 C603 363.6 612 363.8 620 360.6" fill="none" stroke-width="2.2" /><path d="M541.5 339.5C542.42 339.75 544.75 339.33 547 341C549.25 342.67 551.67 346.08 555 349.5C558.33 352.92 563.5 357.25 567 361.5C570.5 365.75 573.93 370.5 576 375C578.07 379.5 578.23 384.25 579.4 388.5C580.57 392.75 582.48 397.42 583 400.5C583.52 403.58 583.5 405.33 582.5 407C581.5 408.67 579.08 410.5 577 410.5C574.92 410.5 572 408.58 570 407C568 405.42 565.83 402 565 401" fill="#fff" stroke-width="1.1" /><path d="M538.5 342C539.55 341.42 541.42 341.08 543.5 342.5C545.58 343.92 547.83 347.17 551 350.5C554.17 353.83 559.13 358.25 562.5 362.5C565.87 366.75 569.18 371.5 571.2 376C573.22 380.5 573.47 385.33 574.6 389.5C575.73 393.67 577.57 398.02 578 401C578.43 403.98 578.03 406.07 577.2 407.4C576.37 408.73 574.62 409.9 573 409C571.38 408.1 571 405.42 567.5 402C564 398.58 556.22 394.25 552 388.5C547.78 382.75 544.2 373.75 542.2 367.5C540.2 361.25 540.83 354.58 540 351C539.17 347.42 537.45 347.5 537.2 346C536.95 344.5 537.45 342.58 538.5 342Z" fill="#fff" stroke-width="1.1" /><ellipse cx="555.2" cy="375.2" rx="12.6" ry="7.27" fill="#fff" stroke-width="1.1" transform="rotate(60 555.2 375.2)" /><ellipse cx="555.6" cy="375" rx="10.6" ry="6.12" fill="none" stroke-width="0.99" transform="rotate(60 555.6 375)" /><ellipse cx="610.6" cy="293.1" rx="9.2" ry="9.9" fill="#fff" stroke-width="1.1" transform="rotate(-20 610.6 293.1)" /><ellipse cx="611.6" cy="292.3" rx="9" ry="9.7" fill="#fff" stroke-width="1.32" transform="rotate(-20 611.6 292.3)" /><ellipse cx="611.8" cy="292.3" rx="5.6" ry="6.6" fill="#fff" stroke-width="1.1" transform="rotate(-20 611.8 292.3)" /><ellipse cx="550.8" cy="328.6" rx="9.2" ry="9.9" fill="#fff" stroke-width="1.1" transform="rotate(-20 550.8 328.6)" /><ellipse cx="551.8" cy="327.8" rx="9" ry="9.7" fill="#fff" stroke-width="1.32" transform="rotate(-20 551.8 327.8)" /><ellipse cx="552" cy="327.8" rx="5.6" ry="6.6" fill="#fff" stroke-width="1.1" transform="rotate(-20 552 327.8)" /><ellipse cx="653.8" cy="366.6" rx="9.2" ry="9.9" fill="#fff" stroke-width="1.1" transform="rotate(-20 653.8 366.6)" /><ellipse cx="654.8" cy="365.8" rx="9" ry="9.7" fill="#fff" stroke-width="1.32" transform="rotate(-20 654.8 365.8)" /><ellipse cx="655" cy="365.8" rx="5.6" ry="6.6" fill="#fff" stroke-width="1.1" transform="rotate(-20 655 365.8)" /><ellipse cx="593.2" cy="402.6" rx="9.2" ry="9.9" fill="#fff" stroke-width="1.1" transform="rotate(-20 593.2 402.6)" /><ellipse cx="594.2" cy="401.8" rx="9" ry="9.7" fill="#fff" stroke-width="1.32" transform="rotate(-20 594.2 401.8)" /><ellipse cx="594.4" cy="401.8" rx="5.6" ry="6.6" fill="#fff" stroke-width="1.1" transform="rotate(-20 594.4 401.8)" /><path d="M545 330.5 L557.5 324.3" fill="none" stroke-width="0.77" /><polygon points="512.12,370.89 541.32,354.29 536.68,346.11 507.48,362.71" fill="#fff" stroke="none"/><ellipse cx="539" cy="350.2" rx="2.35" ry="4.7" fill="#fff" stroke-width="1.1" transform="rotate(-29.62 539 350.2)" /><ellipse cx="509.8" cy="366.8" rx="2.35" ry="4.7" fill="#fff" stroke-width="1.1" transform="rotate(-29.62 509.8 366.8)" /><polygon points="512.12,370.89 516.21,368.56 511.56,360.39 507.48,362.71" fill="#fff" stroke="none"/><line x1="512.12" y1="370.89" x2="541.32" y2="354.29" stroke-width="1.1" /><line x1="507.48" y1="362.71" x2="536.68" y2="346.11" stroke-width="1.1" /><line x1="512.12" y1="370.89" x2="508" y2="362.42" stroke-width="0.94" /><line x1="513.82" y1="369.92" x2="509.69" y2="361.45" stroke-width="0.94" /><line x1="515.51" y1="368.96" x2="511.39" y2="360.49" stroke-width="0.94" /><line x1="517.21" y1="367.99" x2="513.08" y2="359.53" stroke-width="0.94" /><line x1="518.9" y1="367.03" x2="514.78" y2="358.56" stroke-width="0.94" /><line x1="520.6" y1="366.07" x2="516.47" y2="357.6" stroke-width="0.94" /><line x1="522.29" y1="365.1" x2="518.17" y2="356.64" stroke-width="0.94" /><line x1="523.99" y1="364.14" x2="519.87" y2="355.67" stroke-width="0.94" /><polygon points="542.52,420.69 571.72,404.09 567.08,395.91 537.88,412.51" fill="#fff" stroke="none"/><ellipse cx="569.4" cy="400" rx="2.35" ry="4.7" fill="#fff" stroke-width="1.1" transform="rotate(-29.62 569.4 400)" /><ellipse cx="540.2" cy="416.6" rx="2.35" ry="4.7" fill="#fff" stroke-width="1.1" transform="rotate(-29.62 540.2 416.6)" /><polygon points="542.52,420.69 546.61,418.36 541.96,410.19 537.88,412.51" fill="#fff" stroke="none"/><line x1="542.52" y1="420.69" x2="571.72" y2="404.09" stroke-width="1.1" /><line x1="537.88" y1="412.51" x2="567.08" y2="395.91" stroke-width="1.1" /><line x1="542.52" y1="420.69" x2="538.4" y2="412.22" stroke-width="0.94" /><line x1="544.22" y1="419.72" x2="540.09" y2="411.25" stroke-width="0.94" /><line x1="545.91" y1="418.76" x2="541.79" y2="410.29" stroke-width="0.94" /><line x1="547.61" y1="417.79" x2="543.48" y2="409.33" stroke-width="0.94" /><line x1="549.3" y1="416.83" x2="545.18" y2="408.36" stroke-width="0.94" /><line x1="551" y1="415.87" x2="546.87" y2="407.4" stroke-width="0.94" /><line x1="552.69" y1="414.9" x2="548.57" y2="406.44" stroke-width="0.94" /><line x1="554.39" y1="413.94" x2="550.27" y2="405.47" stroke-width="0.94" />
<polygon points="251.88,316.9 276.48,302.9 272.72,296.3 248.12,310.3" fill="#fff" stroke="none"/><ellipse cx="274.6" cy="299.6" rx="1.71" ry="3.8" fill="#fff" stroke-width="1.1" transform="rotate(-29.64 274.6 299.6)" /><line x1="251.88" y1="316.9" x2="276.48" y2="302.9" stroke-width="1.1" /><line x1="248.12" y1="310.3" x2="272.72" y2="296.3" stroke-width="1.1" /><line x1="265.41" y1="309.2" x2="262.17" y2="302.3" stroke-width="0.94" /><line x1="267.1" y1="308.24" x2="263.87" y2="301.34" stroke-width="0.94" /><line x1="268.8" y1="307.27" x2="265.56" y2="300.37" stroke-width="0.94" /><line x1="270.49" y1="306.31" x2="267.26" y2="299.41" stroke-width="0.94" /><line x1="272.19" y1="305.34" x2="268.95" y2="298.44" stroke-width="0.94" /><line x1="273.88" y1="304.38" x2="270.65" y2="297.48" stroke-width="0.94" /><line x1="275.58" y1="303.42" x2="272.34" y2="296.51" stroke-width="0.94" /><polygon points="280.89,374.9 305.39,360.9 301.61,354.3 277.11,368.3" fill="#fff" stroke="none"/><ellipse cx="303.5" cy="357.6" rx="1.71" ry="3.8" fill="#fff" stroke-width="1.1" transform="rotate(-29.74 303.5 357.6)" /><line x1="280.89" y1="374.9" x2="305.39" y2="360.9" stroke-width="1.1" /><line x1="277.11" y1="368.3" x2="301.61" y2="354.3" stroke-width="1.1" /><line x1="295.59" y1="366.5" x2="292.34" y2="359.6" stroke-width="0.94" /><line x1="297.28" y1="365.53" x2="294.03" y2="358.64" stroke-width="0.94" /><line x1="298.97" y1="364.56" x2="295.72" y2="357.67" stroke-width="0.94" /><line x1="300.66" y1="363.6" x2="297.41" y2="356.7" stroke-width="0.94" /><line x1="302.36" y1="362.63" x2="299.11" y2="355.73" stroke-width="0.94" /><line x1="304.05" y1="361.66" x2="300.8" y2="354.77" stroke-width="0.94" /><path d="M176.5 331C173.47 332.66 153.92 343.36 150.5 345.2C147.08 347.04 147.7 346.18 147.2 346.8C146.7 347.42 146.16 349.54 146.2 350.5C146.23 351.46 146.82 353.07 147.5 355C148.18 356.93 149.61 361.75 152 367C154.39 372.25 164.15 392.24 168 400C171.85 407.76 182.72 429.07 185 433.5C187.28 437.93 186.86 437.12 187.5 438C188.14 438.88 189.51 440.42 190.5 441C191.49 441.58 194.19 442.81 196 443C197.81 443.19 204.02 442.95 206 442.6C207.98 442.25 206.47 443.22 213 440C219.53 436.78 256.28 417.92 262 415" fill="#fff" stroke-width="1.1" /><path d="M236 300.5C237.67 301.33 242.17 302.33 246 305.5C249.83 308.67 254.83 314.75 259 319.5C263.17 324.25 267.5 328.92 271 334C274.5 339.08 277.58 344.33 280 350C282.42 355.67 284.33 363 285.5 368C286.67 373 286.17 376.67 287 380C287.83 383.33 290 385.5 290.5 388C291 390.5 290.92 392.92 290 395C289.08 397.08 285.83 399.58 285 400.5" fill="#fff" stroke-width="1.1" /><path d="M227 302C229.02 301.45 230.67 300.05 232.5 300.3C234.33 300.55 236.5 302.13 238 303.5C239.5 304.87 238.75 305.58 241.5 308.5C244.25 311.42 250.17 316.25 254.5 321C258.83 325.75 263.98 331.83 267.5 337C271.02 342.17 273.43 346.83 275.6 352C277.77 357.17 279.43 363.67 280.5 368C281.57 372.33 281.08 375 282 378C282.92 381 285.27 383.33 286 386C286.73 388.67 287.23 391.75 286.4 394C285.57 396.25 284.15 397.33 281 399.5C277.85 401.67 271.92 404.67 267.5 407C263.08 409.33 259.08 411.4 254.5 413.5C249.92 415.6 243.58 418.27 240 419.6C236.42 420.93 235.33 421.68 233 421.5C230.67 421.32 228.1 420.38 226 418.5C223.9 416.62 222.97 413.2 220.4 410.2C217.83 407.2 213.83 404.83 210.6 400.5C207.37 396.17 203.98 389.62 201 384.2C198.02 378.78 195.17 372.87 192.7 368C190.23 363.13 188.37 358.8 186.2 355C184.03 351.2 181.35 347.92 179.7 345.2C178.05 342.48 176.7 340.87 176.3 338.7C175.9 336.53 175.65 334.9 177.3 332.2C178.95 329.5 183.35 325.62 186.2 322.5C189.05 319.38 191.15 316.08 194.4 313.5C197.65 310.92 201.37 308.65 205.7 307C210.03 305.35 216.85 304.43 220.4 303.6C223.95 302.77 224.98 302.55 227 302Z" fill="#fff" stroke-width="1.21" /><ellipse cx="233.2" cy="309.4" rx="4.3" ry="5.3" fill="#fff" stroke-width="1.1" transform="rotate(-25 233.2 309.4)" /><ellipse cx="186" cy="337.8" rx="4.3" ry="5.3" fill="#fff" stroke-width="1.1" transform="rotate(-25 186 337.8)" /><ellipse cx="278" cy="387.4" rx="4.3" ry="5.3" fill="#fff" stroke-width="1.1" transform="rotate(-25 278 387.4)" /><ellipse cx="230.2" cy="413.6" rx="4.3" ry="5.3" fill="#fff" stroke-width="1.1" transform="rotate(-25 230.2 413.6)" /><ellipse cx="232.6" cy="361.4" rx="53.4" ry="29.2" fill="#fff" stroke-width="1.21" transform="rotate(60 232.6 361.4)" /><polyline points="245.6,333.45 248.78,337.33 251.8,341.45 254.61,345.77 257.19,350.26 259.52,354.86 261.57,359.53 263.32,364.23 264.75,368.9 265.85,373.49 266.61,377.98 267.01,382.29 267.07,386.41 266.76,390.27 266.11,393.85 265.11,397.1 263.78,400 262.12,402.52 260.16,404.63 257.91,406.3 255.4,407.53 252.66,408.3 249.7,408.59 246.56,408.42 243.28,407.78 239.88,406.68 236.39,405.12 232.87,403.13 229.33,400.72 225.81,397.93 222.36,394.76 219,391.27 215.77,387.48 212.7,383.43 209.82,379.16 207.17,374.72 204.76,370.15 202.62,365.49 200.78,360.8 199.25,356.12 198.05,351.49" fill="none" stroke-width="0.88" /><polyline points="246.61,338.24 249.42,342.03 252.06,346.01 254.51,350.14 256.74,354.38 258.73,358.69 260.47,363.03 261.94,367.36 263.12,371.65 264,375.85 264.58,379.92 264.86,383.83 264.82,387.54 264.47,391.02 263.81,394.24 262.85,397.15 261.59,399.75 260.06,402 258.25,403.88 256.2,405.38 253.91,406.49 251.41,407.18 248.73,407.46 245.88,407.33 242.9,406.77 239.8,405.81 236.62,404.45 233.4,402.7 230.15,400.57 226.9,398.09 223.7,395.28 220.56,392.17 217.52,388.78 214.6,385.14 211.84,381.3 209.25,377.28 206.86,373.12 204.69,368.85 202.77,364.53 201.1,360.19 199.71,355.86" fill="none" stroke-width="0.88" /><polyline points="247.47,342.88 249.94,346.56 252.24,350.37 254.35,354.28 256.26,358.26 257.95,362.28 259.41,366.3 260.63,370.29 261.58,374.22 262.28,378.05 262.71,381.75 262.86,385.28 262.74,388.63 262.35,391.76 261.68,394.64 260.76,397.26 259.57,399.59 258.14,401.6 256.48,403.29 254.59,404.63 252.51,405.63 250.23,406.26 247.78,406.53 245.19,406.42 242.47,405.95 239.65,405.12 236.75,403.93 233.8,402.39 230.81,400.52 227.82,398.33 224.85,395.84 221.92,393.07 219.07,390.05 216.31,386.8 213.66,383.34 211.15,379.71 208.8,375.93 206.64,372.05 204.66,368.08 202.91,364.07 201.38,360.04" fill="none" stroke-width="0.88" /><polyline points="202.11,358.75 201.13,355.71 200.29,352.7 199.58,349.72 199.02,346.79 198.61,343.92 198.34,341.13 198.23,338.42 198.26,335.81 198.44,333.3 198.78,330.92 199.25,328.66 199.88,326.55 200.65,324.58 201.55,322.77 202.6,321.12 203.77,319.64 205.07,318.34 206.49,317.23 208.02,316.3 209.67,315.56 211.41,315.02 213.25,314.68 215.17,314.53 217.17,314.59 219.23,314.84 221.36,315.29 223.54,315.94 225.76,316.78 228.01,317.81 230.28,319.03 232.57,320.42 234.86,321.99 237.14,323.73 239.4,325.63 241.64,327.68 243.84,329.87 246,332.2 248.1,334.65 250.14,337.21 252.11,339.88" fill="none" stroke-width="0.99" /><clipPath id="l8c"><ellipse cx="233.2" cy="361.1" rx="51" ry="27" transform="rotate(60 233.2 361.1)"/></clipPath><g clip-path="url(#l8c)"><ellipse cx="209.8" cy="374.6" rx="12.4" ry="14.4" fill="none" stroke-width="1.1" transform="rotate(-20 209.8 374.6)" /><path d="M190 369 L204 361.5 M196 383 L201 380.5" fill="none" stroke-width="0.88" /></g><ellipse cx="239.8" cy="356.6" rx="14.3" ry="14.8" fill="none" stroke-width="1.1" /><ellipse cx="238.6" cy="336.6" rx="0.4" ry="0.4" fill="#333" stroke-width="0.55" /><path d="M163.8 356.2C165.27 355.07 167.13 353.98 168.8 354.2C170.47 354.42 172.13 355.7 173.8 357.5C175.47 359.3 176.52 362.72 178.8 365C181.08 367.28 184.8 368.7 187.5 371.2C190.2 373.7 192.92 376.45 195 380C197.08 383.55 198.67 388.13 200 392.5C201.33 396.87 201.75 402.45 203 406.2C204.25 409.95 206.93 412.47 207.5 415C208.07 417.53 207.45 419.7 206.4 421.4C205.35 423.1 202.9 424.8 201.2 425.2C199.5 425.6 198.07 425.08 196.2 423.8C194.33 422.52 192.7 419.6 190 417.5C187.3 415.4 183.33 413.7 180 411.2C176.67 408.7 172.7 406.03 170 402.5C167.3 398.97 165.05 394.38 163.8 390C162.55 385.62 163.23 380.17 162.5 376.2C161.77 372.23 159.82 368.73 159.4 366.2C158.98 363.67 159.27 362.67 160 361C160.73 359.33 162.33 357.33 163.8 356.2Z" fill="#fff" stroke-width="1.1" /><path d="M161.6 358.6C162.67 357.17 164.4 357.37 165.8 357.6C167.2 357.83 168.43 358.23 170 360C171.57 361.77 172.93 365.83 175.2 368.2C177.47 370.57 181 371.8 183.6 374.2C186.2 376.6 188.8 379.2 190.8 382.6C192.8 386 194.33 390.37 195.6 394.6C196.87 398.83 197.33 404.43 198.4 408C199.47 411.57 201.5 413.73 202 416C202.5 418.27 202.07 420.17 201.4 421.6C200.73 423.03 199.13 424.43 198 424.6C196.87 424.77 195.93 423.78 194.6 422.6C193.27 421.42 192.43 419.4 190 417.5C187.57 415.6 183.33 413.7 180 411.2C176.67 408.7 172.7 406.03 170 402.5C167.3 398.97 165.05 394.38 163.8 390C162.55 385.62 163.23 380.17 162.5 376.2C161.77 372.23 159.55 369.13 159.4 366.2C159.25 363.27 160.53 360.03 161.6 358.6Z" fill="#fff" stroke-width="1.1" /><ellipse cx="181.2" cy="391.2" rx="14.8" ry="8.54" fill="#fff" stroke-width="1.1" transform="rotate(60 181.2 391.2)" /><path d="M181.5 366.5 L190 362 M203.8 404.5 L211 400.6" fill="none" stroke-width="0.99" /><polygon points="136.73,386.89 168.13,368.99 164.27,362.21 132.87,380.11" fill="#fff" stroke="none"/><ellipse cx="166.2" cy="365.6" rx="1.95" ry="3.9" fill="#fff" stroke-width="1.1" transform="rotate(-29.69 166.2 365.6)" /><ellipse cx="134.8" cy="383.5" rx="1.95" ry="3.9" fill="#fff" stroke-width="1.1" transform="rotate(-29.69 134.8 383.5)" /><polygon points="136.73,386.89 140.12,384.96 136.26,378.18 132.87,380.11" fill="#fff" stroke="none"/><line x1="136.73" y1="386.89" x2="168.13" y2="368.99" stroke-width="1.1" /><line x1="132.87" y1="380.11" x2="164.27" y2="362.21" stroke-width="1.1" /><line x1="136.73" y1="386.89" x2="133.39" y2="379.81" stroke-width="0.94" /><line x1="138.43" y1="385.92" x2="135.08" y2="378.85" stroke-width="0.94" /><line x1="140.12" y1="384.96" x2="136.78" y2="377.88" stroke-width="0.94" /><line x1="141.81" y1="383.99" x2="138.47" y2="376.92" stroke-width="0.94" /><line x1="143.51" y1="383.03" x2="140.17" y2="375.95" stroke-width="0.94" /><line x1="145.2" y1="382.06" x2="141.86" y2="374.99" stroke-width="0.94" /><line x1="146.9" y1="381.09" x2="143.55" y2="374.02" stroke-width="0.94" /><line x1="148.59" y1="380.13" x2="145.25" y2="373.05" stroke-width="0.94" /><polygon points="167.72,438.39 199.12,420.59 195.28,413.81 163.88,431.61" fill="#fff" stroke="none"/><ellipse cx="197.2" cy="417.2" rx="1.95" ry="3.9" fill="#fff" stroke-width="1.1" transform="rotate(-29.55 197.2 417.2)" /><ellipse cx="165.8" cy="435" rx="1.95" ry="3.9" fill="#fff" stroke-width="1.1" transform="rotate(-29.55 165.8 435)" /><polygon points="167.72,438.39 171.12,436.47 167.27,429.68 163.88,431.61" fill="#fff" stroke="none"/><line x1="167.72" y1="438.39" x2="199.12" y2="420.59" stroke-width="1.1" /><line x1="163.88" y1="431.61" x2="195.28" y2="413.81" stroke-width="1.1" /><line x1="167.72" y1="438.39" x2="164.4" y2="431.31" stroke-width="0.94" /><line x1="169.42" y1="437.43" x2="166.1" y2="430.35" stroke-width="0.94" /><line x1="171.12" y1="436.47" x2="167.79" y2="429.39" stroke-width="0.94" /><line x1="172.81" y1="435.51" x2="169.49" y2="428.43" stroke-width="0.94" /><line x1="174.51" y1="434.55" x2="171.18" y2="427.46" stroke-width="0.94" /><line x1="176.21" y1="433.58" x2="172.88" y2="426.5" stroke-width="0.94" /><line x1="177.9" y1="432.62" x2="174.58" y2="425.54" stroke-width="0.94" /><line x1="179.6" y1="431.66" x2="176.27" y2="424.58" stroke-width="0.94" />
<polygon points="398,552 408.4,572.4 412,573.6 533,503.4 533,497 526,496 531.5,474 524,461.5 470,470 440,515" fill="#fff" stroke-width="0.01" stroke="none"/><path d="M407.6 563.8 L408.4 572.4 L412 573.6 L533 503.4" fill="none" stroke-width="1.1" /><path d="M418.8 566.2 L442.5 553.6 L445 549 L513 514.4" fill="none" stroke-width="0.99" /><path d="M407.6 563.8 L426 553.8 L429 556.6 L444 548.4" fill="none" stroke-width="0.99" /><path d="M445 549 L448 534" fill="none" stroke-width="0.99" /><path d="M524 461.5C525 462.42 528.73 464.92 530 467C531.27 469.08 531.6 471.93 531.6 474C531.6 476.07 531.43 477.83 530 479.4C528.57 480.97 524.17 482.73 523 483.4" fill="#fff" stroke-width="1.1" /><path d="M522 484C522.67 486 524.67 493.17 526 496C527.33 498.83 528.77 499.9 530 501C531.23 502.1 532.83 502.33 533.4 502.6" fill="none" stroke-width="1.1" /><path d="M454 522 L523 483.4" fill="none" stroke-width="1.1" /><path d="M450 531 L488 510 M492 508 L518 488.2" fill="none" stroke-width="0.99" /><path d="M488.6 503.6 L491.4 510.4 M490.6 502.6 L493.4 509.4" fill="none" stroke-width="0.99" /><path d="M492 509 L503 503.2 C506 502 509 503 510 505.6 L513 514.4 L533.4 502.6" fill="none" stroke-width="1.1" /><path d="M514 510 L526 503" fill="none" stroke-width="0.88" /><path d="M474.4 522 C474 520.6 475 519.6 476 519.2 L494 508.4" fill="none" stroke-width="0.99" /><path d="M474.4 522 L477 528 C477.6 530 479 530.6 481 530.4 L483 531 L510 516" fill="none" stroke-width="0.99" /><path d="M450 531 L449 526 L447 524" fill="none" stroke-width="0.99" /><polygon points="313,408 418.8,349.6 436.8,339.6 438,340 445.8,357.5 448,367.6 452,372.6 452,400 410,422 360,420 326,440 317.5,413" fill="#fff" stroke-width="0.01" stroke="none"/><path d="M313 408 L418.8 349.6" fill="none" stroke-width="1.1" /><path d="M418.8 349.6 L436.8 339.6" fill="none" stroke-width="2.64" stroke-linecap="butt"/><path d="M438 340 L445.8 357.5 L448 367.6 L451.6 372.4" fill="none" stroke-width="1.1" /><path d="M313 408 L317.5 412.6" fill="none" stroke-width="1.1" /><path d="M316.6 411.6 L324.4 407.4 L325.6 409.4 L328 409.6 L346.6 399.4" fill="none" stroke-width="0.99" /><path d="M348.2 392.2 C347.2 390.6 347.6 390 348.6 389.4 L388.1 367.4 L388.1 365.4" fill="none" stroke-width="0.99" /><path d="M388.1 367.4 C386.6 370 387 374 389 376.4 C390.6 378.2 393 378.6 395 377.6 L402.5 373.8" fill="none" stroke-width="0.99" /><path d="M420 350.6 L423.3 353.6 L424.4 359.2 L421.6 362.5 L403.8 373 L405 378.6 L412 375.6" fill="none" stroke-width="0.99" /><path d="M409.4 370 L411.3 373.8 M411.9 368.8 L413.8 372.6 M415 367.4 L416.4 371.2" fill="none" stroke-width="0.88" /><path d="M360 388.8 L367 402" fill="none" stroke-width="1.87" /><path d="M367 402 L373.8 403.6 L377.5 410 L395 400.5 L392.3 394.6 L374.5 404" fill="none" stroke-width="0.99" /><path d="M392.3 394.6 L398 391.5 L401.2 397.5 L395 400.5" fill="none" stroke-width="0.99" /><path d="M366.5 403 L361 399.5 L358.5 401 L361.5 407 L364.5 405.5" fill="none" stroke-width="0.99" /><path d="M401.2 397.5 L404 396 L401.9 390" fill="none" stroke-width="0.99" /><path d="M331.28 422 L329.6 416.4L331.67 415.31 L333.35 420.91M335.42 419.83 L333.74 414.23L335.81 413.14 L337.49 418.74M339.57 417.66 L337.89 412.06L339.96 410.97 L341.64 416.57M343.71 415.49 L342.03 409.89L344.1 408.8 L345.78 414.4M347.85 413.31 L346.17 407.71L348.24 406.63 L349.92 412.23M351.99 411.14 L350.31 405.54L352.39 404.46 L354.07 410.06M356.14 408.97 L354.46 403.37L356.53 402.29 L358.21 407.89" fill="none" stroke-width="0.99" /><path d="M331 415.2 L325.4 416.6 M358.6 401.2 L361.4 406.4 L364.8 404.6 L362.6 399.4" fill="none" stroke-width="0.99" /><path d="M317.5 412.5 L322.4 426" fill="none" stroke-width="1.1" /><ellipse cx="322.6" cy="427.3" rx="1.7" ry="1.7" fill="#fff" stroke-width="1.32" /><path d="M323 429.5C321.83 430.08 317.53 431.08 316 433C314.47 434.92 313.72 438.17 313.8 441C313.88 443.83 314.97 448.08 316.5 450C318.03 451.92 321.25 452.83 323 452.5C324.75 452.17 326.33 448.75 327 448" fill="#fff" stroke-width="1.1" /><ellipse cx="324.2" cy="452.4" rx="1.6" ry="2" fill="#fff" stroke-width="1.32" /><ellipse cx="320.4" cy="442.2" rx="3.9" ry="5.2" fill="none" stroke-width="1.1" transform="rotate(-12 320.4 442.2)" /><ellipse cx="320.6" cy="442.2" rx="2.4" ry="3.4" fill="none" stroke-width="0.99" transform="rotate(-12 320.6 442.2)" /><path d="M324 453C322.75 453.33 318.33 453.58 316.5 455C314.67 456.42 313.42 459.25 313 461.5C312.58 463.75 312.83 466.08 314 468.5C315.17 470.92 318 473.58 320 476C322 478.42 324.75 480.67 326 483C327.25 485.33 327.25 488.83 327.5 490" fill="#fff" stroke-width="1.1" /><path d="M322.5 456.5C321.67 457.08 318.25 458.25 317.5 460C316.75 461.75 317.08 464.92 318 467C318.92 469.08 321.67 470.67 323 472.5C324.33 474.33 325.5 477.08 326 478" fill="none" stroke-width="0.99" /><path d="M314 468.5C314.83 471.08 316.75 478.25 319 484C321.25 489.75 324.83 497 327.5 503C330.17 509 332.08 514.17 335 520C337.92 525.83 342.17 533.33 345 538C347.83 542.67 350.83 546.33 352 548" fill="none" stroke-width="1.1" /><path d="M352 548C353.33 548.67 357.33 551.83 360 552C362.67 552.17 365.83 549.92 368 549C370.17 548.08 372.17 546.92 373 546.5" fill="none" stroke-width="0.99" /><path d="M373 546.5C373.75 547 376.25 547.92 377.5 549.5C378.75 551.08 379.17 554.17 380.5 556C381.83 557.83 383.67 560.08 385.5 560.5C387.33 560.92 390.08 559.75 391.5 558.5C392.92 557.25 393.58 553.92 394 553" fill="#fff" stroke-width="1.1" /><ellipse cx="384.6" cy="551.6" rx="4" ry="4.6" fill="#fff" stroke-width="1.1" transform="rotate(-20 384.6 551.6)" /><ellipse cx="384.6" cy="551.6" rx="2.4" ry="2.9" fill="none" stroke-width="0.99" transform="rotate(-20 384.6 551.6)" /><ellipse cx="396.8" cy="554.2" rx="1.5" ry="1.9" fill="#fff" stroke-width="1.32" /><path d="M398 556 L400.4 560.6" fill="none" stroke-width="0.99" /><ellipse cx="380.3" cy="480.2" rx="75.7" ry="43.91" fill="#fff" stroke-width="1.43" transform="rotate(58.6 380.3 480.2)" /><polyline points="391.87,430.07 395.94,433.86 399.89,437.93 403.71,442.28 407.36,446.85 410.82,451.64 414.08,456.6 417.11,461.71 419.9,466.94 422.42,472.25 424.67,477.62 426.62,483 428.27,488.36 429.61,493.68 430.62,498.92 431.3,504.05 431.66,509.03 431.67,513.84 431.35,518.44 430.7,522.8 429.72,526.91 428.41,530.73 426.79,534.25 424.87,537.43 422.65,540.26 420.15,542.72 417.39,544.8 414.38,546.49 411.14,547.77 407.69,548.63 404.06,549.08 400.26,549.1 396.32,548.7 392.26,547.88 388.11,546.65 383.9,545.01 379.64,542.97 375.37,540.55 371.11,537.75 366.88,534.61 362.73,531.13" fill="none" stroke-width="0.99" /><path d="M333.53 429.5C333.19 428.9 334.21 428.29 334.38 427.99C334.56 427.7 335.11 426.84 335.31 426.56C335.5 426.28 336.09 425.47 336.29 425.21C336.5 424.94 337.13 424.18 337.35 423.93C337.56 423.69 338.23 422.97 338.46 422.74C338.69 422.51 339.4 421.85 339.64 421.64C339.88 421.42 340.63 420.81 340.88 420.62C341.13 420.42 341.91 419.86 342.17 419.69C342.44 419.51 343.25 419 343.53 418.84C343.8 418.68 344.47 417.61 344.93 418.09C345.39 418.58 347.92 423.05 348.11 423.68C348.3 424.31 347.09 424.22 346.83 424.36C346.58 424.51 345.84 424.97 345.6 425.13C345.36 425.29 344.66 425.8 344.42 425.98C344.19 426.15 343.52 426.71 343.3 426.9C343.08 427.1 342.43 427.7 342.23 427.91C342.02 428.12 341.41 428.77 341.21 428.99C341.01 429.22 340.44 429.91 340.25 430.15C340.07 430.39 339.53 431.13 339.35 431.39C339.18 431.64 338.68 432.42 338.51 432.69C338.35 432.96 338.23 434.38 337.74 434.06C337.24 433.75 333.86 430.11 333.53 429.5Z" fill="#fff" stroke-width="0.99" /><path d="M365.73 416.51C365.85 416.01 367.74 417.04 368.24 417.19C368.75 417.34 370.28 417.85 370.79 418.03C371.3 418.22 372.84 418.82 373.36 419.03C373.87 419.25 375.42 419.94 375.94 420.19C376.46 420.43 378.02 421.22 378.54 421.5C379.06 421.77 380.62 422.65 381.14 422.96C381.66 423.26 383.22 424.23 383.74 424.56C384.26 424.9 385.81 425.95 386.33 426.31C386.85 426.68 388.39 427.81 388.91 428.2C389.42 428.59 391.31 429.57 391.46 430.22C391.62 430.87 390.79 434.45 390.46 434.72C390.12 434.98 388.6 433.23 388.13 432.88C387.67 432.52 386.26 431.49 385.79 431.16C385.32 430.83 383.9 429.87 383.43 429.57C382.96 429.26 381.54 428.39 381.07 428.11C380.59 427.83 379.17 427.03 378.7 426.78C378.22 426.53 376.81 425.81 376.33 425.59C375.86 425.36 374.45 424.73 373.98 424.53C373.51 424.34 372.11 423.79 371.64 423.62C371.18 423.46 369.79 423 369.33 422.86C368.87 422.72 367.4 422.88 367.04 422.24C366.68 421.61 365.61 417.02 365.73 416.51Z" fill="#fff" stroke-width="0.99" /><path d="M417.62 461.81C418.11 461.93 418.88 464.07 419.18 464.64C419.49 465.21 420.38 466.94 420.67 467.51C420.96 468.09 421.8 469.83 422.07 470.41C422.34 470.99 423.13 472.74 423.39 473.32C423.64 473.91 424.38 475.66 424.62 476.25C424.85 476.84 425.54 478.6 425.75 479.19C425.97 479.78 426.6 481.54 426.8 482.13C427 482.71 427.56 484.48 427.74 485.06C427.92 485.65 428.43 487.4 428.59 487.99C428.75 488.57 429.71 490.7 429.34 490.9C428.98 491.09 425.44 490.29 424.93 489.93C424.42 489.57 424.4 487.82 424.25 487.29C424.1 486.76 423.64 485.16 423.48 484.62C423.31 484.09 422.8 482.49 422.61 481.95C422.43 481.42 421.86 479.81 421.66 479.28C421.47 478.74 420.85 477.14 420.63 476.61C420.41 476.07 419.74 474.47 419.51 473.94C419.28 473.41 418.56 471.82 418.31 471.29C418.07 470.76 417.3 469.18 417.04 468.65C416.77 468.13 415.96 466.56 415.69 466.04C415.41 465.52 414.07 463.89 414.26 463.46C414.45 463.04 417.12 461.69 417.62 461.81Z" fill="#fff" stroke-width="0.99" /><path d="M430.29 522.27C430.66 522.9 429.74 524.3 429.59 524.79C429.43 525.28 428.93 526.72 428.75 527.19C428.57 527.66 427.99 529.02 427.79 529.46C427.58 529.9 426.92 531.18 426.69 531.59C426.46 532 425.72 533.2 425.47 533.58C425.21 533.97 424.4 535.08 424.12 535.43C423.84 535.79 422.96 536.8 422.65 537.13C422.35 537.45 421.4 538.37 421.07 538.67C420.74 538.96 419.72 539.79 419.37 540.04C419.02 540.3 418.09 541.69 417.57 541.26C417.06 540.83 414.39 536.43 414.22 535.77C414.05 535.11 415.54 534.9 415.86 534.66C416.18 534.43 417.1 533.67 417.4 533.41C417.7 533.14 418.57 532.3 418.84 532.01C419.12 531.71 419.92 530.79 420.18 530.46C420.43 530.14 421.17 529.13 421.4 528.78C421.64 528.43 422.31 527.34 422.52 526.97C422.73 526.59 423.33 525.43 423.52 525.03C423.7 524.63 424.23 523.39 424.4 522.96C424.56 522.54 425.01 521.23 425.15 520.78C425.29 520.33 425.28 518.34 425.79 518.49C426.3 518.64 429.91 521.64 430.29 522.27Z" fill="#fff" stroke-width="0.99" /><path d="M392.27 543.18C392.14 543.67 390.38 542.57 389.9 542.4C389.43 542.23 387.99 541.68 387.51 541.48C387.03 541.28 385.59 540.65 385.11 540.42C384.62 540.2 383.17 539.48 382.69 539.23C382.2 538.98 380.75 538.19 380.27 537.91C379.78 537.63 378.33 536.76 377.84 536.46C377.36 536.16 375.91 535.21 375.43 534.89C374.95 534.56 373.5 533.54 373.02 533.19C372.54 532.84 371.11 531.75 370.63 531.38C370.16 531 368.39 530.09 368.27 529.45C368.14 528.82 369.02 525.29 369.35 525.02C369.67 524.75 371.07 526.43 371.5 526.77C371.94 527.12 373.24 528.11 373.68 528.43C374.11 528.74 375.43 529.67 375.87 529.97C376.31 530.27 377.63 531.13 378.07 531.4C378.51 531.68 379.83 532.47 380.27 532.72C380.71 532.97 382.03 533.69 382.47 533.92C382.91 534.15 384.23 534.8 384.67 535.01C385.11 535.21 386.43 535.79 386.86 535.97C387.3 536.15 388.6 536.65 389.04 536.81C389.47 536.96 390.87 536.88 391.19 537.52C391.52 538.16 392.4 542.69 392.27 543.18Z" fill="#fff" stroke-width="0.99" /><path d="M341.77 496.41C341.28 496.28 340.61 494.22 340.32 493.66C340.04 493.11 339.22 491.44 338.95 490.89C338.68 490.33 337.91 488.65 337.66 488.09C337.41 487.53 336.68 485.84 336.45 485.28C336.21 484.71 335.53 483.02 335.32 482.46C335.1 481.89 334.47 480.19 334.27 479.63C334.07 479.06 333.5 477.37 333.32 476.81C333.14 476.24 332.62 474.55 332.45 473.99C332.29 473.42 331.82 471.74 331.68 471.18C331.53 470.62 330.62 468.56 330.99 468.39C331.37 468.22 334.92 469.09 335.43 469.45C335.93 469.81 335.92 471.48 336.05 471.99C336.18 472.5 336.61 474.03 336.76 474.55C336.9 475.06 337.38 476.6 337.54 477.11C337.71 477.62 338.23 479.17 338.41 479.68C338.6 480.2 339.17 481.74 339.36 482.25C339.56 482.77 340.18 484.31 340.39 484.82C340.6 485.33 341.27 486.87 341.49 487.38C341.72 487.89 342.43 489.42 342.67 489.92C342.91 490.43 343.66 491.95 343.92 492.45C344.18 492.95 345.45 494.56 345.24 494.95C345.02 495.35 342.26 496.54 341.77 496.41Z" fill="#fff" stroke-width="0.99" /><ellipse cx="353.87" cy="418.45" rx="1.9" ry="2.4" fill="#fff" stroke-width="0.99" transform="rotate(-10 353.87 418.45)" /><ellipse cx="353.87" cy="418.45" rx="0.9" ry="1.2" fill="none" stroke-width="0.77" transform="rotate(-10 353.87 418.45)" /><ellipse cx="403.06" cy="444.18" rx="1.9" ry="2.4" fill="#fff" stroke-width="0.99" transform="rotate(-10 403.06 444.18)" /><ellipse cx="403.06" cy="444.18" rx="0.9" ry="1.2" fill="none" stroke-width="0.77" transform="rotate(-10 403.06 444.18)" /><ellipse cx="429.52" cy="506.91" rx="1.9" ry="2.4" fill="#fff" stroke-width="0.99" transform="rotate(-10 429.52 506.91)" /><ellipse cx="429.52" cy="506.91" rx="0.9" ry="1.2" fill="none" stroke-width="0.77" transform="rotate(-10 429.52 506.91)" /><ellipse cx="404.52" cy="542.17" rx="1.9" ry="2.4" fill="#fff" stroke-width="0.99" transform="rotate(-10 404.52 542.17)" /><ellipse cx="404.52" cy="542.17" rx="0.9" ry="1.2" fill="none" stroke-width="0.77" transform="rotate(-10 404.52 542.17)" /><ellipse cx="356.78" cy="515.33" rx="1.9" ry="2.4" fill="#fff" stroke-width="0.99" transform="rotate(-10 356.78 515.33)" /><ellipse cx="356.78" cy="515.33" rx="0.9" ry="1.2" fill="none" stroke-width="0.77" transform="rotate(-10 356.78 515.33)" /><ellipse cx="331.11" cy="454.47" rx="1.9" ry="2.4" fill="#fff" stroke-width="0.99" transform="rotate(-10 331.11 454.47)" /><ellipse cx="331.11" cy="454.47" rx="0.9" ry="1.2" fill="none" stroke-width="0.77" transform="rotate(-10 331.11 454.47)" /><ellipse cx="380.3" cy="480.2" rx="61.32" ry="35.56" fill="#fff" stroke-width="1.76" transform="rotate(58.6 380.3 480.2)" /><polyline points="423.1,516.72 421.59,520.4 419.68,523.66 417.39,526.47 414.74,528.78 411.76,530.59 408.47,531.87 404.92,532.61 401.14,532.8 397.17,532.44 393.05,531.53 388.81,530.08 384.51,528.11 380.19,525.64 375.89,522.69 371.66,519.3 367.54,515.49 363.56,511.3 359.79,506.79 356.24,501.99 352.96,496.96 349.98,491.74 347.34,486.39 345.05,480.97 343.14,475.52 341.64,470.12 340.55,464.8 339.89,459.63 339.67,454.65 339.88,449.93 340.53,445.5 341.61,441.42 343.1,437.72 345,434.44 347.28,431.62 349.92,429.29 352.89,427.46 356.16,426.16 359.71,425.41 363.48,425.2 367.45,425.54" fill="none" stroke-width="0.99" /><polyline points="424.3,501.43 423.78,505.98 422.79,510.17 421.31,513.92 419.39,517.2 417.03,519.96 414.28,522.16 411.16,523.79 407.72,524.81 404,525.22 400.05,525 395.92,524.17 391.66,522.72 387.33,520.69 382.98,518.1 378.67,514.98 374.46,511.36 370.39,507.31 366.53,502.86 362.91,498.08 359.6,493.03 356.62,487.77 354.02,482.37 351.83,476.9 350.08,471.43 348.79,466.03 347.98,460.77 347.66,455.71 347.84,450.93 348.5,446.49 349.65,442.43 351.26,438.82 353.32,435.7 355.81,433.1 358.68,431.07 361.9,429.63 365.43,428.8 369.22,428.58 373.24,428.99 377.41,430.01 381.7,431.64" fill="none" stroke-width="1.1" /><path d="M412.36 429.42 L416.5 428.5L418 431.36 L413.86 432.28M415.36 435.13 L419.5 434.21L421 437.07 L416.86 437.99M418.36 440.85 L422.5 439.93L424 442.79 L419.86 443.71M421.36 446.56 L425.5 445.64L427 448.5 L422.86 449.42M424.36 452.28 L428.5 451.36L430 454.21 L425.86 455.13M427.36 457.99 L431.5 457.07L433 459.93 L428.86 460.85M430.36 463.71 L434.5 462.79L436 465.64 L431.86 466.56" fill="none" stroke-width="0.99" /><path d="M413 420.5 L415.8 426.5 M437.5 468.5 L441 472.5 L444 470.2 L446.4 474.8 L441 478" fill="none" stroke-width="0.99" /><path d="M409.6 408C408.67 408.43 405.17 409.43 404 410.6C402.83 411.77 402.27 413.6 402.6 415C402.93 416.4 404.67 418.4 406 419C407.33 419.6 409.5 418.1 410.6 418.6C411.7 419.1 412.27 421.43 412.6 422" fill="none" stroke-width="0.99" /><path d="M406 419 L404.6 421.6 L407.4 422.8" fill="none" stroke-width="0.99" /><path d="M413.16 547.2 L414.6 552L416.46 550.95 L415.02 546.15M416.89 545.1 L418.33 549.9L420.19 548.85 L418.75 544.05M420.61 543 L422.05 547.8L423.91 546.75 L422.47 541.95M424.33 540.9 L425.77 545.7L427.64 544.65 L426.2 539.85" fill="none" stroke-width="0.99" /><path d="M430 543 L434 540.6 L436.6 545 L447 539" fill="none" stroke-width="0.99" /><path d="M441 478C441.5 479 444 482 444 484C444 486 441.17 487.83 441 490C440.83 492.17 441.77 495.23 443 497C444.23 498.77 447.5 500 448.4 500.6" fill="none" stroke-width="0.99" /><path d="M446.4 474.8C447.07 475.67 450.13 477.97 450.4 480C450.67 482.03 448.07 484.83 448 487C447.93 489.17 448.92 491.33 450 493C451.08 494.67 453.75 496.33 454.5 497" fill="none" stroke-width="0.99" /><polygon points="445,503 464,494 523,463 524,483 454,522" fill="#fff" stroke-width="0.01" stroke="none"/><path d="M445 503 L464 494" fill="none" stroke-width="1.1" /><path d="M454 522 L523 483.4" fill="none" stroke-width="1.1" /><ellipse cx="445.4" cy="512.6" rx="10.4" ry="6.24" fill="#fff" stroke-width="1.1" transform="rotate(60 445.4 512.6)" /><ellipse cx="447.5" cy="514" rx="9.9" ry="5.94" fill="#fff" stroke-width="1.21" transform="rotate(60 447.5 514)" /><ellipse cx="446.8" cy="514.6" rx="6.2" ry="3.84" fill="#fff" stroke-width="2.42" transform="rotate(60 446.8 514.6)" /><ellipse cx="443.6" cy="524.6" rx="2.2" ry="2.6" fill="#fff" stroke-width="1.1" /><ellipse cx="447.6" cy="499.6" rx="1.8" ry="2.2" fill="#fff" stroke-width="1.1" /><path d="M416.64 409.21Q413.4 403 419.47 399.51L475.13 367.49Q481.2 364 484.93 369.92L531.07 443.08Q534.8 449 528.76 452.54L466.24 489.26Q460.2 492.8 456.96 486.59Z" fill="#fff" stroke-width="1.1" /><path d="M414.23 411.03Q410.4 404 417.29 399.94L470.71 368.46Q477.6 364.4 481.85 371.18L527.15 443.42Q531.4 450.2 524.44 454.15L465.16 487.85Q458.2 491.8 454.37 484.77Z" fill="#fff" stroke-width="1.26" /><path d="M463 495 L482 486.5 M492 481.4 L511.6 468.4 L522.4 462.6" fill="none" stroke-width="2.2" stroke-linecap="butt"/><path d="M485.6 485.4 C486 489.6 491 489.6 491.6 482.6" fill="#fff" stroke-width="0.99" /><ellipse cx="415.6" cy="406.9" rx="2.5" ry="3.2" fill="#fff" stroke-width="0.99" transform="rotate(-25 415.6 406.9)" /><ellipse cx="415.6" cy="406.9" rx="1.3" ry="1.9" fill="none" stroke-width="0.88" transform="rotate(-25 415.6 406.9)" /><ellipse cx="480" cy="370" rx="2.5" ry="3.2" fill="#fff" stroke-width="0.99" transform="rotate(-25 480 370)" /><ellipse cx="480" cy="370" rx="1.3" ry="1.9" fill="none" stroke-width="0.88" transform="rotate(-25 480 370)" /><ellipse cx="525" cy="449.3" rx="2.5" ry="3.2" fill="#fff" stroke-width="0.99" transform="rotate(-25 525 449.3)" /><ellipse cx="525" cy="449.3" rx="1.3" ry="1.9" fill="none" stroke-width="0.88" transform="rotate(-25 525 449.3)" /><ellipse cx="460.6" cy="486.2" rx="2.5" ry="3.2" fill="#fff" stroke-width="0.99" transform="rotate(-25 460.6 486.2)" /><ellipse cx="460.6" cy="486.2" rx="1.3" ry="1.9" fill="none" stroke-width="0.88" transform="rotate(-25 460.6 486.2)" /><path d="M424.4 413.8C424.87 408.5 426.62 401.2 428.8 396.2C430.98 391.2 433.55 387.1 437.5 383.8C441.45 380.5 447.92 377.67 452.5 376.4C457.08 375.13 461.42 375.77 465 376.2C468.58 376.63 470.25 376.53 474 379C477.75 381.47 483 386.83 487.5 391C492 395.17 496.83 400.17 501 404C505.17 407.83 509.67 408.67 512.5 414C515.33 419.33 517.58 429 518 436C518.42 443 518 449.7 515 456C512 462.3 506.25 469.6 500 473.8C493.75 478 484.37 480.58 477.5 481.2C470.63 481.82 464.05 479.37 458.8 477.5C453.55 475.63 449.63 473.58 446 470C442.37 466.42 439.67 460.83 437 456C434.33 451.17 431.83 445.67 430 441C428.17 436.33 426.93 432.53 426 428C425.07 423.47 423.93 419.1 424.4 413.8Z" fill="#fff" stroke-width="1.1" /><ellipse cx="415.6" cy="406.9" rx="2.5" ry="3.2" fill="#fff" stroke-width="0.99" transform="rotate(-25 415.6 406.9)" /><ellipse cx="415.6" cy="406.9" rx="1.3" ry="1.9" fill="none" stroke-width="0.88" transform="rotate(-25 415.6 406.9)" /><ellipse cx="480" cy="370" rx="2.5" ry="3.2" fill="#fff" stroke-width="0.99" transform="rotate(-25 480 370)" /><ellipse cx="480" cy="370" rx="1.3" ry="1.9" fill="none" stroke-width="0.88" transform="rotate(-25 480 370)" /><ellipse cx="525" cy="449.3" rx="2.5" ry="3.2" fill="#fff" stroke-width="0.99" transform="rotate(-25 525 449.3)" /><ellipse cx="525" cy="449.3" rx="1.3" ry="1.9" fill="none" stroke-width="0.88" transform="rotate(-25 525 449.3)" /><ellipse cx="460.6" cy="486.2" rx="2.5" ry="3.2" fill="#fff" stroke-width="0.99" transform="rotate(-25 460.6 486.2)" /><ellipse cx="460.6" cy="486.2" rx="1.3" ry="1.9" fill="none" stroke-width="0.88" transform="rotate(-25 460.6 486.2)" /><ellipse cx="457.8" cy="435.2" rx="38.9" ry="31.6" fill="#fff" stroke-width="1.26" transform="rotate(60 457.8 435.2)" /><polyline points="430.26,445.64 429.24,442.83 428.42,439.97 427.8,437.08 427.39,434.19 427.19,431.31 427.2,428.47 427.42,425.67 427.85,422.95 428.49,420.31 429.33,417.77 430.37,415.35 431.59,413.07 433,410.94 434.59,408.98 436.33,407.19 438.23,405.59 440.27,404.19 442.43,403 444.71,402.02 447.08,401.27 449.53,400.74 452.05,400.45 454.62,400.39 457.22,400.56 459.84,400.96 462.45,401.59 465.05,402.45 467.61,403.53 470.11,404.82 472.55,406.32 474.91,408.01 477.17,409.88 479.31,411.93 481.32,414.13 483.19,416.48 484.91,418.95 486.46,421.54 487.84,424.22 489.03,426.98 490.04,429.8" fill="none" stroke-width="0.99" /><path d="M455 413.8C456.1 415.4 459.4 419.93 461.6 423.4C463.8 426.87 466.03 431 468.2 434.6C470.37 438.2 473.07 441.93 474.6 445C476.13 448.07 476.93 450.4 477.4 453C477.87 455.6 478 457.87 477.4 460.6C476.8 463.33 475.43 467.17 473.8 469.4C472.17 471.63 469.9 473.13 467.6 474C465.3 474.87 462.52 475.1 460 474.6C457.48 474.1 455.07 472.67 452.5 471C449.93 469.33 446.92 466.87 444.6 464.6C442.28 462.33 439.6 458.6 438.6 457.4" fill="none" stroke-width="1.1" /><path d="M455 413.8C455.07 415.23 454.77 419.4 455.4 422.4C456.03 425.4 457.2 428.77 458.8 431.8C460.4 434.83 462.9 438.1 465 440.6C467.1 443.1 469.47 445.17 471.4 446.8C473.33 448.43 475.73 449.8 476.6 450.4" fill="none" stroke-width="0.99" /><path d="M401.9 389 L401.9 402.6" fill="none" stroke-width="0.99" /><path d="M399 385.7Q399 387.2 400.31 387.92L407.89 392.08Q409.2 392.8 410.51 392.06L445.59 372.24Q446.9 371.5 446.9 370L446.9 371.4Q446.9 369.9 445.56 369.23L435.84 364.37Q434.5 363.7 433.22 364.49L400.28 384.81Q399 385.6 399 387.1Z" fill="#fff" stroke-width="1.1" /><path d="M400.58 386.47Q399 385.6 400.53 384.65L432.97 364.65Q434.5 363.7 436.11 364.5L445.29 369.1Q446.9 369.9 445.33 370.79L410.77 390.31Q409.2 391.2 407.62 390.33Z" fill="#fff" stroke-width="1.1" /><ellipse cx="408.6" cy="384.5" rx="3.4" ry="2" fill="none" stroke-width="0.99" transform="rotate(-25 408.6 384.5)" /><ellipse cx="408.8" cy="384.8" rx="2" ry="1.1" fill="none" stroke-width="0.88" transform="rotate(-25 408.8 384.8)" /><ellipse cx="436.7" cy="368.7" rx="3.4" ry="2" fill="none" stroke-width="0.99" transform="rotate(-25 436.7 368.7)" /><ellipse cx="436.9" cy="369" rx="2" ry="1.1" fill="none" stroke-width="0.88" transform="rotate(-25 436.9 369)" /><rect x="-9.6" y="-2.5" width="19.2" height="5" rx="2.5" transform="translate(422.7 377.2) rotate(-29)" fill="none" stroke-width="0.99"/><polyline points="417.4,405.8 460.6,380.8" fill="none" stroke-width="0.88" stroke-dasharray="17 3.5 2 3.5" stroke-linecap="butt"/><polyline points="482,368.8 519.6,347.2" fill="none" stroke-width="0.88" stroke-dasharray="17 3.5 2 3.5" stroke-linecap="butt"/><polyline points="462.6,485 493,467.6" fill="none" stroke-width="0.88" stroke-dasharray="17 3.5 2 3.5" stroke-linecap="butt"/>
<polygon points="262.5,585 252.6,590.2 252.6,592.4 370,664.4 386.2,658.8 386.2,655.6" fill="#fff" stroke-width="1.1" /><path d="M252.6 590.2 L370.6 661.8 L386.2 655.6 M370.6 661.8 L370.2 664.4" fill="none" stroke-width="0.99" /><path d="M262.5 585 L262.5 517.6 L275 503.4 Q276.6 501.6 279.4 502.6 L288.6 507.6 Q290.2 508.6 290.2 511 L290.2 532 C291 552 303 566 318 574 C332 582.5 345 581 352 572.5 C356 567 357 560 357.4 552 L357.6 550.6 L361.4 549.8 L386.2 590.4 L386.2 655.6 Z" fill="#fff" stroke-width="1.16" /><path d="M384 591 L384 654.4 M359.6 551.4 L384 591" fill="none" stroke-width="0.99" /><path d="M264.2 520.6 L282.6 514" fill="none" stroke-width="0.88" /><ellipse cx="283.8" cy="514.4" rx="1.7" ry="2.1" fill="none" stroke-width="0.99" transform="rotate(-20 283.8 514.4)" /><ellipse cx="323" cy="581.4" rx="1.3" ry="1.7" fill="none" stroke-width="0.99" transform="rotate(-20 323 581.4)" /><ellipse cx="361.2" cy="560.4" rx="1.3" ry="1.7" fill="none" stroke-width="0.99" transform="rotate(-20 361.2 560.4)" /><path d="M272 540C273.07 538.57 275.07 537.53 277 537.8C278.93 538.07 281.27 539.57 283.6 541.6C285.93 543.63 288.87 546.83 291 550C293.13 553.17 295.07 557.03 296.4 560.6C297.73 564.17 298.63 568.57 299 571.4C299.37 574.23 299.43 576.23 298.6 577.6C297.77 578.97 296 579.7 294 579.6C292 579.5 288.77 577.6 286.6 577C284.43 576.4 282.87 577.07 281 576C279.13 574.93 276.97 573 275.4 570.6C273.83 568.2 272.1 564.43 271.6 561.6C271.1 558.77 272.57 556.13 272.4 553.6C272.23 551.07 270.67 548.67 270.6 546.4C270.53 544.13 270.93 541.43 272 540Z" fill="#fff" stroke-width="1.1" /><path d="M274 541.6C274.8 540.47 275.9 539.7 277.4 540C278.9 540.3 280.97 541.57 283 543.4C285.03 545.23 287.67 548.07 289.6 551C291.53 553.93 293.37 557.67 294.6 561C295.83 564.33 296.63 568.5 297 571C297.37 573.5 297.37 574.9 296.8 576C296.23 577.1 295.23 577.73 293.6 577.6C291.97 577.47 289 575.77 287 575.2C285 574.63 283.3 575.17 281.6 574.2C279.9 573.23 278.17 571.57 276.8 569.4C275.43 567.23 273.83 563.87 273.4 561.2C272.97 558.53 274.33 555.8 274.2 553.4C274.07 551 272.63 548.77 272.6 546.8C272.57 544.83 273.2 542.73 274 541.6Z" fill="none" stroke-width="0.88" /><path d="M290.4 539 L307.4 562.6 M296 569.4 L307 563.6" fill="none" stroke-width="0.99" /><path d="M337.6 580.8 L362.6 628" fill="none" stroke-width="0.99" /><ellipse cx="323.2" cy="602" rx="7" ry="9.2" fill="#fff" stroke-width="1.1" transform="rotate(-18 323.2 602)" /><ellipse cx="323.4" cy="602.2" rx="5.8" ry="8" fill="none" stroke-width="0.88" transform="rotate(-18 323.4 602.2)" /><path d="M375.47 610.69C375.1 611.38 374.59 612.03 374.03 612.56C373.47 613.09 372.78 613.54 372.1 613.9C371.42 614.25 370.66 614.49 369.95 614.7C369.25 614.9 368.52 615 367.86 615.12C367.19 615.24 366.56 615.3 365.96 615.42C365.36 615.55 364.81 615.68 364.26 615.88C363.7 616.08 363.19 616.33 362.63 616.62C362.07 616.91 361.51 617.28 360.9 617.62C360.29 617.96 359.64 618.36 358.96 618.66C358.28 618.95 357.53 619.26 356.8 619.41C356.07 619.56 355.29 619.65 354.57 619.57C353.86 619.5 353.13 619.29 352.51 618.96C351.89 618.63 351.32 618.15 350.86 617.59C350.39 617.04 350.03 616.35 349.74 615.66C349.46 614.97 349.3 614.18 349.16 613.45C349.03 612.71 348.99 611.95 348.93 611.26C348.87 610.56 348.87 609.89 348.8 609.27C348.72 608.64 348.65 608.07 348.5 607.5C348.36 606.93 348.16 606.41 347.93 605.84C347.7 605.27 347.39 604.71 347.12 604.09C346.85 603.47 346.52 602.82 346.3 602.12C346.07 601.42 345.84 600.65 345.76 599.89C345.67 599.13 345.66 598.31 345.79 597.54C345.92 596.78 346.17 595.99 346.53 595.31C346.9 594.62 347.41 593.97 347.97 593.44C348.53 592.91 349.22 592.46 349.9 592.1C350.58 591.75 351.34 591.51 352.05 591.3C352.75 591.1 353.48 591 354.14 590.88C354.81 590.76 355.44 590.7 356.04 590.58C356.64 590.45 357.19 590.32 357.74 590.12C358.3 589.92 358.81 589.67 359.37 589.38C359.93 589.09 360.49 588.72 361.1 588.38C361.71 588.04 362.36 587.64 363.04 587.34C363.72 587.05 364.47 586.74 365.2 586.59C365.93 586.44 366.71 586.35 367.43 586.43C368.14 586.5 368.87 586.71 369.49 587.04C370.11 587.37 370.68 587.85 371.14 588.41C371.61 588.96 371.97 589.65 372.26 590.34C372.54 591.03 372.7 591.82 372.84 592.55C372.97 593.29 373.01 594.05 373.07 594.74C373.13 595.44 373.13 596.11 373.2 596.73C373.28 597.36 373.35 597.93 373.5 598.5C373.64 599.07 373.84 599.59 374.07 600.16C374.3 600.73 374.61 601.29 374.88 601.91C375.15 602.53 375.48 603.18 375.7 603.88C375.93 604.58 376.16 605.35 376.24 606.11C376.33 606.87 376.34 607.69 376.21 608.46C376.08 609.22 375.83 610.01 375.47 610.69Z" fill="#fff" stroke-width="1.1" /><path d="M374.07 610.04C373.75 610.65 373.29 611.24 372.79 611.71C372.29 612.19 371.67 612.59 371.07 612.91C370.46 613.23 369.78 613.44 369.15 613.63C368.52 613.81 367.88 613.9 367.28 614.01C366.69 614.12 366.13 614.17 365.59 614.28C365.06 614.4 364.57 614.51 364.08 614.69C363.58 614.87 363.12 615.1 362.63 615.36C362.13 615.62 361.63 615.95 361.09 616.26C360.54 616.56 359.97 616.92 359.36 617.18C358.75 617.45 358.08 617.72 357.43 617.86C356.78 618 356.09 618.07 355.45 618.01C354.81 617.94 354.17 617.76 353.61 617.47C353.06 617.17 352.55 616.74 352.14 616.25C351.73 615.76 351.4 615.14 351.15 614.52C350.9 613.9 350.76 613.2 350.64 612.55C350.52 611.89 350.49 611.21 350.44 610.59C350.39 609.97 350.38 609.38 350.32 608.82C350.26 608.26 350.19 607.75 350.06 607.24C349.94 606.73 349.76 606.26 349.55 605.76C349.35 605.25 349.08 604.75 348.84 604.2C348.6 603.65 348.31 603.06 348.11 602.44C347.91 601.81 347.71 601.13 347.63 600.45C347.56 599.77 347.54 599.04 347.66 598.35C347.78 597.67 348 596.97 348.33 596.36C348.65 595.75 349.11 595.16 349.61 594.69C350.11 594.21 350.73 593.81 351.33 593.49C351.94 593.17 352.62 592.96 353.25 592.77C353.88 592.59 354.52 592.5 355.12 592.39C355.71 592.28 356.27 592.23 356.81 592.12C357.34 592 357.83 591.89 358.32 591.71C358.82 591.53 359.28 591.3 359.77 591.04C360.27 590.78 360.77 590.45 361.31 590.14C361.86 589.84 362.43 589.48 363.04 589.22C363.65 588.95 364.32 588.68 364.97 588.54C365.62 588.4 366.31 588.33 366.95 588.39C367.59 588.46 368.23 588.64 368.79 588.93C369.34 589.23 369.85 589.66 370.26 590.15C370.67 590.64 371 591.26 371.25 591.88C371.5 592.5 371.64 593.2 371.76 593.85C371.88 594.51 371.91 595.19 371.96 595.81C372.01 596.43 372.02 597.02 372.08 597.58C372.14 598.14 372.21 598.65 372.34 599.16C372.46 599.67 372.64 600.14 372.85 600.64C373.05 601.15 373.32 601.65 373.56 602.2C373.8 602.75 374.09 603.34 374.29 603.96C374.49 604.59 374.69 605.27 374.77 605.95C374.84 606.63 374.86 607.36 374.74 608.05C374.62 608.73 374.4 609.43 374.07 610.04Z" fill="#fff" stroke-width="0.88" /><ellipse cx="272.6" cy="597.4" rx="3" ry="1.9" fill="none" stroke-width="0.99" transform="rotate(20 272.6 597.4)" /><ellipse cx="317.2" cy="623.4" rx="3" ry="1.8" fill="none" stroke-width="0.99" transform="rotate(20 317.2 623.4)" /><ellipse cx="360.8" cy="649.4" rx="3" ry="1.8" fill="none" stroke-width="0.99" transform="rotate(20 360.8 649.4)" /><path d="M295 606.6C295.21 605.43 297.47 602.55 298.4 601.8C299.33 601.05 300.3 600.7 301.2 601.6C302.1 602.5 304.16 606.51 304.4 607.8C304.64 609.09 303.91 609.93 302.8 610.2C301.69 610.47 298.17 610.14 297 609.6C295.83 609.06 294.79 607.77 295 606.6Z" fill="#fff" stroke-width="1.1" /><path d="M296.4 606.6C296.58 605.79 298.34 603.71 299 603.2C299.66 602.69 300.2 602.51 300.8 603.2C301.4 603.89 302.82 606.93 303 607.8C303.18 608.67 302.78 608.88 302 609C301.22 609.12 298.64 608.96 297.8 608.6C296.96 608.24 296.22 607.41 296.4 606.6Z" fill="none" stroke-width="0.77" /><path d="M339.2 632C339.41 630.83 341.67 627.95 342.6 627.2C343.53 626.45 344.5 626.1 345.4 627C346.3 627.9 348.36 631.91 348.6 633.2C348.84 634.49 348.11 635.33 347 635.6C345.89 635.87 342.37 635.54 341.2 635C340.03 634.46 338.99 633.17 339.2 632Z" fill="#fff" stroke-width="1.1" /><path d="M340.6 632C340.78 631.19 342.54 629.11 343.2 628.6C343.86 628.09 344.4 627.91 345 628.6C345.6 629.29 347.02 632.33 347.2 633.2C347.38 634.07 346.98 634.28 346.2 634.4C345.42 634.52 342.84 634.36 342 634C341.16 633.64 340.42 632.81 340.6 632Z" fill="none" stroke-width="0.77" />
<polygon points="191.3,546.4 243.8,516.4 243.8,564.6 209.6,584.2 206.2,581.2" fill="#fff" stroke-width="0.01" stroke="none"/><path d="M191.3 546.4 L229.4 524.6 M231.6 523.4 L243.8 516.4" fill="none" stroke-width="1.1" /><polygon points="187.5,572 200,564.6 207,584 206.2,585 187.5,575" fill="#fff" stroke-width="0.01" stroke="none"/><path d="M200 564.6 L187.5 572 L187.5 575 L206.4 585" fill="none" stroke-width="1.1" /><path d="M187.5 572 L204.6 581.2" fill="none" stroke-width="0.99" /><path d="M191.3 546.6 L201.2 566.2 C204 572 206 577 206.2 581.2 C206.4 583.6 207.6 584.6 209.6 584.2" fill="none" stroke-width="1.21" /><path d="M195.6 545.4 L206.2 566.2 C209 571.6 211.4 576 211.8 580 C211.8 582.6 210.8 583.8 209.6 584.2" fill="none" stroke-width="1.21" /><path d="M191.3 546.6 L195.6 545.2" fill="none" stroke-width="0.99" /><path d="M212.6 569.4 L243 551.4" fill="none" stroke-width="1.1" /><path d="M210 583.8 L242.6 565" fill="none" stroke-width="1.1" /><ellipse cx="211.5" cy="548.5" rx="4.5" ry="5.4" fill="#fff" stroke-width="1.1" transform="rotate(-20 211.5 548.5)" /><path d="M207.6 550 L215.6 546.8 M210.4 543.6 L212.8 553.2" fill="none" stroke-width="0.88" />
<path d="M380.4 141.4 A40.4 22.3 0 0 0 461.2 141.4 L461.2 154.4 A40.4 22.6 0 0 1 380.4 154.4 Z" fill="#111" stroke-width="1.32" /><line x1="389.04" y1="156.87" x2="389.04" y2="166.35" stroke="#fff" stroke-width="0.74" stroke-linecap="butt"/><line x1="385.98" y1="154.04" x2="385.98" y2="163.48" stroke="#fff" stroke-width="0.58" stroke-linecap="butt"/><line x1="387.28" y1="155.36" x2="387.28" y2="164.81" stroke="#fff" stroke-width="0.66" stroke-linecap="butt"/><line x1="389.68" y1="157.36" x2="389.68" y2="166.84" stroke="#fff" stroke-width="0.77" stroke-linecap="butt"/><line x1="392.26" y1="159.09" x2="392.26" y2="168.59" stroke="#fff" stroke-width="0.87" stroke-linecap="butt"/><line x1="395.02" y1="160.6" x2="395.02" y2="170.12" stroke="#fff" stroke-width="0.96" stroke-linecap="butt"/><line x1="397.92" y1="161.91" x2="397.92" y2="171.45" stroke="#fff" stroke-width="1.02" stroke-linecap="butt"/><line x1="400.94" y1="163.03" x2="400.94" y2="172.59" stroke="#fff" stroke-width="1.09" stroke-linecap="butt"/><line x1="404.08" y1="163.97" x2="404.08" y2="173.54" stroke="#fff" stroke-width="1.14" stroke-linecap="butt"/><line x1="407.32" y1="164.74" x2="407.32" y2="174.32" stroke="#fff" stroke-width="1.19" stroke-linecap="butt"/><line x1="410.62" y1="165.34" x2="410.62" y2="174.93" stroke="#fff" stroke-width="1.22" stroke-linecap="butt"/><line x1="413.98" y1="165.76" x2="413.98" y2="175.36" stroke="#fff" stroke-width="1.24" stroke-linecap="butt"/><line x1="417.38" y1="166.02" x2="417.38" y2="175.61" stroke="#fff" stroke-width="1.26" stroke-linecap="butt"/><line x1="420.8" y1="166.1" x2="420.8" y2="175.7" stroke="#fff" stroke-width="1.26" stroke-linecap="butt"/><line x1="424.22" y1="166.02" x2="424.22" y2="175.61" stroke="#fff" stroke-width="1.26" stroke-linecap="butt"/><line x1="427.62" y1="165.76" x2="427.62" y2="175.36" stroke="#fff" stroke-width="1.24" stroke-linecap="butt"/><line x1="430.98" y1="165.34" x2="430.98" y2="174.93" stroke="#fff" stroke-width="1.22" stroke-linecap="butt"/><line x1="434.28" y1="164.74" x2="434.28" y2="174.32" stroke="#fff" stroke-width="1.19" stroke-linecap="butt"/><line x1="437.52" y1="163.97" x2="437.52" y2="173.54" stroke="#fff" stroke-width="1.14" stroke-linecap="butt"/><line x1="440.66" y1="163.03" x2="440.66" y2="172.59" stroke="#fff" stroke-width="1.09" stroke-linecap="butt"/><line x1="443.68" y1="161.91" x2="443.68" y2="171.45" stroke="#fff" stroke-width="1.02" stroke-linecap="butt"/><line x1="446.58" y1="160.6" x2="446.58" y2="170.12" stroke="#fff" stroke-width="0.96" stroke-linecap="butt"/><line x1="449.34" y1="159.09" x2="449.34" y2="168.59" stroke="#fff" stroke-width="0.87" stroke-linecap="butt"/><line x1="451.92" y1="157.36" x2="451.92" y2="166.84" stroke="#fff" stroke-width="0.77" stroke-linecap="butt"/><line x1="454.32" y1="155.36" x2="454.32" y2="164.81" stroke="#fff" stroke-width="0.66" stroke-linecap="butt"/><line x1="455.62" y1="154.04" x2="455.62" y2="163.48" stroke="#fff" stroke-width="0.58" stroke-linecap="butt"/><line x1="452.56" y1="156.87" x2="452.56" y2="166.35" stroke="#fff" stroke-width="0.74" stroke-linecap="butt"/><ellipse cx="420.8" cy="141.4" rx="40.4" ry="22.3" fill="#fff" stroke-width="1.54" /><ellipse cx="420.8" cy="141.9" rx="38.4" ry="20.9" fill="none" stroke-width="0.99" /><ellipse cx="420.8" cy="142.4" rx="36.2" ry="19.4" fill="none" stroke-width="0.99" /><line x1="424.48" y1="140.64" x2="427.11" y2="160.89" stroke-width="1.04" /><line x1="417.12" y1="140.64" x2="414.49" y2="160.89" stroke-width="1.04" /><line x1="427.11" y1="160.89" x2="414.49" y2="160.89" stroke-width="0.99" /><line x1="433.1" y1="137.15" x2="449.31" y2="153.14" stroke-width="1.04" /><line x1="427.9" y1="139.9" x2="440.4" y2="157.93" stroke-width="1.04" /><line x1="449.31" y1="153.14" x2="440.4" y2="157.93" stroke-width="0.99" /><line x1="413.7" y1="139.9" x2="401.2" y2="157.93" stroke-width="1.04" /><line x1="408.5" y1="137.15" x2="392.29" y2="153.14" stroke-width="1.04" /><line x1="401.2" y1="157.93" x2="392.29" y2="153.14" stroke-width="0.99" /><line x1="434.52" y1="131.46" x2="454.82" y2="139.21" stroke-width="1.04" /><line x1="434.52" y1="135.34" x2="454.82" y2="145.99" stroke-width="1.04" /><line x1="454.82" y1="139.21" x2="454.82" y2="145.99" stroke-width="0.99" /><line x1="407.08" y1="135.34" x2="386.78" y2="145.99" stroke-width="1.04" /><line x1="407.08" y1="131.46" x2="386.78" y2="139.21" stroke-width="1.04" /><line x1="386.78" y1="145.99" x2="386.78" y2="139.21" stroke-width="0.99" /><line x1="427.9" y1="126.9" x2="440.4" y2="127.27" stroke-width="1.04" /><line x1="433.1" y1="129.65" x2="449.31" y2="132.06" stroke-width="1.04" /><line x1="440.4" y1="127.27" x2="449.31" y2="132.06" stroke-width="0.99" /><line x1="408.5" y1="129.65" x2="392.29" y2="132.06" stroke-width="1.04" /><line x1="413.7" y1="126.9" x2="401.2" y2="127.27" stroke-width="1.04" /><line x1="392.29" y1="132.06" x2="401.2" y2="127.27" stroke-width="0.99" /><line x1="417.12" y1="126.16" x2="414.49" y2="124.31" stroke-width="1.04" /><line x1="424.48" y1="126.16" x2="427.11" y2="124.31" stroke-width="1.04" /><line x1="414.49" y1="124.31" x2="427.11" y2="124.31" stroke-width="0.99" /><polyline points="449.48,146.61 449.19,147.16 448.86,147.71 448.48,148.25 448.05,148.79 447.59,149.31 447.08,149.83 446.54,150.33 445.95,150.83" fill="none" stroke-width="0.88" /><polyline points="436.21,155.65 435.21,155.94 434.19,156.21 433.15,156.46 432.09,156.69 431.01,156.9 429.92,157.09 428.81,157.25 427.69,157.4" fill="none" stroke-width="0.88" /><polyline points="413.91,157.4 412.79,157.25 411.68,157.09 410.59,156.9 409.51,156.69 408.45,156.46 407.41,156.21 406.39,155.94 405.39,155.65" fill="none" stroke-width="0.88" /><polyline points="395.65,150.83 395.06,150.33 394.52,149.83 394.01,149.31 393.55,148.79 393.12,148.25 392.74,147.71 392.41,147.16 392.12,146.61" fill="none" stroke-width="0.88" /><polyline points="394.23,148.58 393.52,148 392.86,147.4 392.25,146.79 391.7,146.17 391.2,145.54 390.76,144.89 390.37,144.24 390.05,143.58" fill="none" stroke-width="0.88" /><polyline points="390.05,136.82 390.37,136.16 390.76,135.51 391.2,134.86 391.7,134.23 392.25,133.61 392.86,133 393.52,132.4 394.23,131.82" fill="none" stroke-width="0.88" /><polyline points="447.37,131.82 448.08,132.4 448.74,133 449.35,133.61 449.9,134.23 450.4,134.86 450.84,135.51 451.23,136.16 451.55,136.82" fill="none" stroke-width="0.88" /><polyline points="451.55,143.58 451.23,144.24 450.84,144.89 450.4,145.54 449.9,146.17 449.35,146.79 448.74,147.4 448.08,148 447.37,148.58" fill="none" stroke-width="0.88" /><ellipse cx="420.8" cy="133.4" rx="13.8" ry="7.2" fill="#fff" stroke-width="1.21" /><ellipse cx="421.2" cy="201.6" rx="37.2" ry="21.4" fill="#fff" stroke-width="1.1" transform="rotate(2 421.2 201.6)" /><ellipse cx="421.2" cy="201.8" rx="34.9" ry="19.3" fill="#fff" stroke-width="1.1" transform="rotate(2 421.2 201.8)" /><path d="M391.3 294 L391.3 309.4 L393.6 311.6 L393.6 319 L394.2 320.2 L406 325.8 L445.3 302.8 L445.3 294 Z" fill="#fff" stroke-width="1.1" /><path d="M391.3 308.8 C394 312.6 400 314.8 407.6 314.4 C412.6 313.6 416.2 311 416.6 308.2" fill="none" stroke-width="0.99" /><path d="M408.8 302.6 L416.6 308.2 L429 306.6 L433.6 303.6" fill="none" stroke-width="0.99" /><path d="M383.4 249 L384.2 281 C385 289 391 295.5 397.5 298 C405 301.6 413 303 420 303.2 C428 303 437 300.5 442.5 297 C450 292.6 455 287 455.6 281 L456.6 249 Z" fill="#fff" stroke-width="1.21" /><ellipse cx="420" cy="248.5" rx="37" ry="21.2" fill="#fff" stroke-width="1.32" /><polyline points="456.98,251.44 456.77,253.06 456.34,254.67 455.71,256.26 454.86,257.81 453.8,259.32 452.55,260.78 451.1,262.18 449.47,263.52 447.67,264.78 445.7,265.95 443.58,267.03 441.33,268.02 438.95,268.91 436.45,269.69 433.86,270.36 431.19,270.91 428.45,271.34 425.66,271.65 422.84,271.84 420,271.9 417.16,271.84 414.34,271.65 411.55,271.34 408.81,270.91 406.14,270.36 403.55,269.69 401.05,268.91 398.67,268.02 396.42,267.03 394.3,265.95 392.33,264.78 390.53,263.52 388.9,262.18 387.45,260.78 386.2,259.32 385.14,257.81 384.29,256.26 383.66,254.67 383.23,253.06 383.02,251.44" fill="none" stroke-width="0.99" /><polyline points="456.83,253.64 456.62,255.26 456.2,256.87 455.56,258.46 454.71,260.01 453.66,261.52 452.42,262.98 450.97,264.38 449.35,265.72 447.56,266.98 445.6,268.15 443.49,269.23 441.24,270.22 438.87,271.11 436.38,271.89 433.8,272.56 431.14,273.11 428.41,273.54 425.64,273.85 422.83,274.04 420,274.1 417.17,274.04 414.36,273.85 411.59,273.54 408.86,273.11 406.2,272.56 403.62,271.89 401.13,271.11 398.76,270.22 396.51,269.23 394.4,268.15 392.44,266.98 390.65,265.72 389.03,264.38 387.58,262.98 386.34,261.52 385.29,260.01 384.44,258.46 383.8,256.87 383.38,255.26 383.17,253.64" fill="none" stroke-width="0.99" /><polyline points="456.68,255.84 456.47,257.46 456.05,259.07 455.42,260.66 454.57,262.21 453.53,263.72 452.28,265.18 450.85,266.58 449.23,267.92 447.44,269.18 445.49,270.35 443.39,271.43 441.16,272.42 438.79,273.31 436.32,274.09 433.75,274.76 431.1,275.31 428.38,275.74 425.61,276.05 422.82,276.24 420,276.3 417.18,276.24 414.39,276.05 411.62,275.74 408.9,275.31 406.25,274.76 403.68,274.09 401.21,273.31 398.84,272.42 396.61,271.43 394.51,270.35 392.56,269.18 390.77,267.92 389.15,266.58 387.72,265.18 386.47,263.72 385.43,262.21 384.58,260.66 383.95,259.07 383.53,257.46 383.32,255.84" fill="none" stroke-width="0.99" /><polyline points="456.53,258.24 456.32,259.86 455.9,261.47 455.27,263.06 454.43,264.61 453.39,266.12 452.15,267.58 450.72,268.98 449.11,270.32 447.33,271.58 445.39,272.75 443.3,273.83 441.07,274.82 438.72,275.71 436.25,276.49 433.69,277.16 431.05,277.71 428.35,278.14 425.59,278.45 422.8,278.64 420,278.7 417.2,278.64 414.41,278.45 411.65,278.14 408.95,277.71 406.31,277.16 403.75,276.49 401.28,275.71 398.93,274.82 396.7,273.83 394.61,272.75 392.67,271.58 390.89,270.32 389.28,268.98 387.85,267.58 386.61,266.12 385.57,264.61 384.73,263.06 384.1,261.47 383.68,259.86 383.47,258.24" fill="none" stroke-width="0.99" /><ellipse cx="420" cy="248.8" rx="34.6" ry="19.4" fill="none" stroke-width="0.99" /><ellipse cx="420" cy="250.2" rx="32.3" ry="17.6" fill="none" stroke-width="1.21" /><polyline points="451.51,255.49 451.05,256.66 450.43,257.82 449.67,258.94 448.76,260.04 447.71,261.1 446.53,262.12 445.22,263.09 443.78,264.01 442.23,264.87 440.57,265.68 438.81,266.42 436.96,267.09 435.02,267.69 433.02,268.21 430.94,268.66 428.82,269.03 426.65,269.32 424.45,269.53 422.23,269.66 420,269.7 417.77,269.66 415.55,269.53 413.35,269.32 411.18,269.03 409.06,268.66 406.98,268.21 404.98,267.69 403.04,267.09 401.19,266.42 399.43,265.68 397.77,264.87 396.22,264.01 394.78,263.09 393.47,262.12 392.29,261.1 391.24,260.04 390.33,258.94 389.57,257.82 388.95,256.66 388.49,255.49" fill="none" stroke-width="0.88" /><path d="M394.1 341.1Q394.1 342.6 395.35 343.42L404.75 349.58Q406 350.4 407.28 349.63L445.72 326.47Q447 325.7 447 324.2L447 325.5Q447 324 445.68 323.29L435.92 318.01Q434.6 317.3 433.3 318.06L395.4 340.14Q394.1 340.9 394.1 342.4Z" fill="#fff" stroke-width="1.1" /><path d="M395.61 341.89Q394.1 340.9 395.66 339.99L433.04 318.21Q434.6 317.3 436.18 318.16L445.42 323.14Q447 324 445.46 324.93L407.54 347.77Q406 348.7 404.49 347.71Z" fill="#fff" stroke-width="1.1" /><ellipse cx="403.5" cy="341.1" rx="3.4" ry="2" fill="none" stroke-width="0.99" transform="rotate(-25 403.5 341.1)" /><ellipse cx="403.7" cy="341.4" rx="2" ry="1.1" fill="none" stroke-width="0.88" transform="rotate(-25 403.7 341.4)" /><ellipse cx="434.6" cy="322.9" rx="3.4" ry="2" fill="none" stroke-width="0.99" transform="rotate(-25 434.6 322.9)" /><ellipse cx="434.8" cy="323.2" rx="2" ry="1.1" fill="none" stroke-width="0.88" transform="rotate(-25 434.8 323.2)" /><rect x="-9.6" y="-2.5" width="19.2" height="5" rx="2.5" transform="translate(420 331.9) rotate(-29)" fill="none" stroke-width="0.99"/><rect x="500.6" y="152" width="7" height="27" fill="#fff" stroke-width="0.99"/><line x1="500.6" y1="154" x2="507.6" y2="154" stroke-width="0.83" /><line x1="500.6" y1="155.55" x2="507.6" y2="155.55" stroke-width="0.83" /><line x1="500.6" y1="157.1" x2="507.6" y2="157.1" stroke-width="0.83" /><line x1="500.6" y1="158.65" x2="507.6" y2="158.65" stroke-width="0.83" /><line x1="500.6" y1="160.2" x2="507.6" y2="160.2" stroke-width="0.83" /><line x1="500.6" y1="161.75" x2="507.6" y2="161.75" stroke-width="0.83" /><line x1="500.6" y1="163.3" x2="507.6" y2="163.3" stroke-width="0.83" /><line x1="500.6" y1="164.85" x2="507.6" y2="164.85" stroke-width="0.83" /><line x1="500.6" y1="166.4" x2="507.6" y2="166.4" stroke-width="0.83" /><line x1="500.6" y1="167.95" x2="507.6" y2="167.95" stroke-width="0.83" /><line x1="500.6" y1="169.5" x2="507.6" y2="169.5" stroke-width="0.83" /><line x1="500.6" y1="171.05" x2="507.6" y2="171.05" stroke-width="0.83" /><line x1="500.6" y1="172.6" x2="507.6" y2="172.6" stroke-width="0.83" /><line x1="500.6" y1="174.15" x2="507.6" y2="174.15" stroke-width="0.83" /><line x1="500.6" y1="175.7" x2="507.6" y2="175.7" stroke-width="0.83" /><line x1="500.6" y1="177.25" x2="507.6" y2="177.25" stroke-width="0.83" /><line x1="500.6" y1="178.8" x2="507.6" y2="178.8" stroke-width="0.83" /><path d="M498.1 144.5 L498.1 151 A6.2 3.3 0 0 0 510.5 151 L510.5 144.5" fill="#fff" stroke-width="1.1" /><ellipse cx="504.3" cy="144.5" rx="6.2" ry="3.7" fill="#fff" stroke-width="1.1" /><ellipse cx="504.2" cy="145" rx="3.6" ry="2.1" fill="none" stroke-width="0.88" /><line x1="504.2" y1="143.6" x2="504.2" y2="146.6" stroke-width="0.77" /><line x1="504.2" y1="181" x2="504.2" y2="190" stroke-width="0.99" /><ellipse cx="504" cy="191.8" rx="10" ry="5.9" fill="#fff" stroke-width="1.1" /><ellipse cx="504" cy="190.4" rx="10" ry="5.7" fill="#fff" stroke-width="1.1" /><ellipse cx="504.4" cy="190.8" rx="5" ry="2.9" fill="none" stroke-width="0.99" /><ellipse cx="504.6" cy="191.2" rx="3.3" ry="1.9" fill="none" stroke-width="0.88" /><line x1="504.2" y1="184.5" x2="504.2" y2="192.6" stroke-width="0.99" /><polygon points="608.5,262.47 610.58,254.69 604.88,244.82 597.1,242.73 595.01,250.51 600.71,260.38" fill="#fff" stroke-width="1.1" /><polygon points="603.3,265.47 605.38,257.69 610.58,254.69 608.5,262.47" fill="#fff" stroke-width="1.1" /><polygon points="605.38,257.69 599.68,247.82 604.88,244.82 610.58,254.69" fill="#fff" stroke-width="1.1" /><polygon points="599.68,247.82 591.9,245.73 597.1,242.73 604.88,244.82" fill="#fff" stroke-width="1.1" /><polygon points="591.9,245.73 589.82,253.51 595.01,250.51 597.1,242.73" fill="#fff" stroke-width="1.1" /><polygon points="589.82,253.51 595.52,263.38 600.71,260.38 595.01,250.51" fill="#fff" stroke-width="1.1" /><polygon points="595.52,263.38 603.3,265.47 608.5,262.47 600.71,260.38" fill="#fff" stroke-width="1.1" /><polygon points="603.3,265.47 605.38,257.69 599.68,247.82 591.9,245.73 589.82,253.51 595.52,263.38" fill="#fff" stroke-width="1.1" /><polygon points="555.04,284.85 599.64,259.25 594.76,250.75 550.16,276.35" fill="#fff" stroke="none"/><ellipse cx="552.6" cy="280.6" rx="2.21" ry="4.9" fill="#fff" stroke-width="1.1" transform="rotate(-29.86 552.6 280.6)" /><polygon points="555.04,284.85 559.29,282.41 554.41,273.91 550.16,276.35" fill="#fff" stroke="none"/><line x1="555.04" y1="284.85" x2="599.64" y2="259.25" stroke-width="1.1" /><line x1="550.16" y1="276.35" x2="594.76" y2="250.75" stroke-width="1.1" /><line x1="555.04" y1="284.85" x2="550.68" y2="276.05" stroke-width="0.94" /><line x1="557.07" y1="283.68" x2="552.71" y2="274.89" stroke-width="0.94" /><line x1="559.1" y1="282.52" x2="554.74" y2="273.72" stroke-width="0.94" /><line x1="561.13" y1="281.36" x2="556.77" y2="272.56" stroke-width="0.94" /><line x1="563.16" y1="280.19" x2="558.8" y2="271.39" stroke-width="0.94" /><line x1="565.19" y1="279.03" x2="560.83" y2="270.23" stroke-width="0.94" /><line x1="567.22" y1="277.86" x2="562.86" y2="269.06" stroke-width="0.94" /><line x1="569.25" y1="276.7" x2="564.89" y2="267.9" stroke-width="0.94" /><polygon points="107.14,585.11 154.94,558.31 149.66,548.89 101.86,575.69" fill="#fff" stroke="none"/><ellipse cx="152.3" cy="553.6" rx="2.7" ry="5.4" fill="#fff" stroke-width="1.1" transform="rotate(-29.28 152.3 553.6)" /><line x1="107.14" y1="585.11" x2="154.94" y2="558.31" stroke-width="1.1" /><line x1="101.86" y1="575.69" x2="149.66" y2="548.89" stroke-width="1.1" /><line x1="130.56" y1="571.98" x2="125.8" y2="562.26" stroke-width="0.94" /><line x1="132.6" y1="570.83" x2="127.85" y2="561.12" stroke-width="0.94" /><line x1="134.65" y1="569.69" x2="129.89" y2="559.98" stroke-width="0.94" /><line x1="136.69" y1="568.55" x2="131.93" y2="558.83" stroke-width="0.94" /><line x1="138.73" y1="567.4" x2="133.97" y2="557.69" stroke-width="0.94" /><line x1="140.77" y1="566.26" x2="136.01" y2="556.54" stroke-width="0.94" /><line x1="142.81" y1="565.11" x2="138.05" y2="555.4" stroke-width="0.94" /><line x1="144.85" y1="563.97" x2="140.09" y2="554.25" stroke-width="0.94" /><line x1="146.89" y1="562.82" x2="142.13" y2="553.11" stroke-width="0.94" /><line x1="148.93" y1="561.68" x2="144.17" y2="551.97" stroke-width="0.94" /><line x1="150.97" y1="560.53" x2="146.22" y2="550.82" stroke-width="0.94" /><line x1="153.01" y1="559.39" x2="148.26" y2="549.68" stroke-width="0.94" /><polygon points="111,589.87 113.09,582.09 107.39,572.22 99.6,570.13 97.52,577.91 103.22,587.78" fill="#fff" stroke-width="1.1" /><polygon points="106.5,592.47 108.58,584.69 113.09,582.09 111,589.87" fill="#fff" stroke-width="1.1" /><polygon points="108.58,584.69 102.88,574.82 107.39,572.22 113.09,582.09" fill="#fff" stroke-width="1.1" /><polygon points="102.88,574.82 95.1,572.73 99.6,570.13 107.39,572.22" fill="#fff" stroke-width="1.1" /><polygon points="95.1,572.73 93.02,580.51 97.52,577.91 99.6,570.13" fill="#fff" stroke-width="1.1" /><polygon points="93.02,580.51 98.72,590.38 103.22,587.78 97.52,577.91" fill="#fff" stroke-width="1.1" /><polygon points="98.72,590.38 106.5,592.47 111,589.87 103.22,587.78" fill="#fff" stroke-width="1.1" /><polygon points="106.5,592.47 108.58,584.69 102.88,574.82 95.1,572.73 93.02,580.51 98.72,590.38" fill="#fff" stroke-width="1.1" /><ellipse cx="165.9" cy="544.8" rx="10.6" ry="6.36" fill="#fff" stroke-width="1.1" transform="rotate(60 165.9 544.8)" /><ellipse cx="167.6" cy="543.8" rx="10.6" ry="6.36" fill="#fff" stroke-width="1.1" transform="rotate(60 167.6 543.8)" /><ellipse cx="168" cy="544" rx="6.2" ry="3.72" fill="#fff" stroke-width="1.1" transform="rotate(60 168 544)" /><polyline points="168.08,547.49 167.72,547.16 167.38,546.81 167.06,546.44 166.75,546.04 166.45,545.62 166.18,545.19 165.93,544.74 165.7,544.28 165.49,543.82 165.31,543.35 165.16,542.88 165.04,542.41 164.94,541.95 164.88,541.49 164.85,541.05 164.84,540.62 164.87,540.21 164.93,539.82 165.02,539.46 165.14,539.12 165.28,538.8 165.46,538.52 165.66,538.27 165.88,538.05 166.13,537.87 166.4,537.73 166.69,537.62 167,537.55 167.32,537.52 167.66,537.53 168.01,537.58 168.37,537.67 168.73,537.79 169.1,537.95 169.47,538.15 169.84,538.38 170.2,538.65 170.56,538.95 170.91,539.27 171.25,539.63" fill="none" stroke-width="0.88" /><polygon points="237.29,502.86 248.49,496.46 245.91,491.94 234.71,498.34" fill="#fff" stroke="none"/><ellipse cx="247.2" cy="494.2" rx="1.17" ry="2.6" fill="#fff" stroke-width="1.1" transform="rotate(-29.74 247.2 494.2)" /><line x1="237.29" y1="502.86" x2="248.49" y2="496.46" stroke-width="1.1" /><line x1="234.71" y1="498.34" x2="245.91" y2="491.94" stroke-width="1.1" /><line x1="241.21" y1="500.62" x2="239.15" y2="495.8" stroke-width="0.94" /><line x1="242.68" y1="499.78" x2="240.62" y2="494.97" stroke-width="0.94" /><line x1="244.14" y1="498.94" x2="242.09" y2="494.13" stroke-width="0.94" /><line x1="245.61" y1="498.1" x2="243.55" y2="493.29" stroke-width="0.94" /><line x1="247.08" y1="497.26" x2="245.02" y2="492.45" stroke-width="0.94" /><polygon points="239.44,505.3 239.79,500.94 236.54,496.45 232.95,496.3 232.61,500.66 235.85,505.15" fill="#fff" stroke-width="1.1" /><polygon points="236.84,506.8 237.19,502.44 239.79,500.94 239.44,505.3" fill="#fff" stroke-width="1.1" /><polygon points="237.19,502.44 233.94,497.95 236.54,496.45 239.79,500.94" fill="#fff" stroke-width="1.1" /><polygon points="233.94,497.95 230.36,497.8 232.95,496.3 236.54,496.45" fill="#fff" stroke-width="1.1" /><polygon points="230.36,497.8 230.01,502.16 232.61,500.66 232.95,496.3" fill="#fff" stroke-width="1.1" /><polygon points="230.01,502.16 233.26,506.65 235.85,505.15 232.61,500.66" fill="#fff" stroke-width="1.1" /><polygon points="233.26,506.65 236.84,506.8 239.44,505.3 235.85,505.15" fill="#fff" stroke-width="1.1" /><polygon points="236.84,506.8 237.19,502.44 233.94,497.95 230.36,497.8 230.01,502.16 233.26,506.65" fill="#fff" stroke-width="1.1" /><line x1="416.2" y1="582" x2="416.2" y2="594" stroke-width="0.99" /><ellipse cx="416.2" cy="593" rx="9.2" ry="5.5" fill="none" stroke-width="1.1" /><ellipse cx="416.2" cy="593" rx="7.4" ry="4" fill="none" stroke-width="0.99" /><line x1="416.2" y1="598.6" x2="416.2" y2="603" stroke-width="0.99" /><polygon points="405,616.5 410,621.6 422.3,621.6 427.8,616.5 427.8,621.8 422.3,627.6 410,627.6 405,621.8" fill="#fff" stroke-width="1.1" /><polygon points="405,616.5 409,613.2 424,613.2 427.8,616.5 422.3,621.6 410,621.6" fill="#fff" stroke-width="1.1" /><line x1="410" y1="621.6" x2="410" y2="627.6" stroke-width="0.99" /><line x1="422.3" y1="621.6" x2="422.3" y2="627.6" stroke-width="0.99" /><path d="M408.6 608.5 L408.6 617 A7.7 3.2 0 0 0 424 617 L424 608.5 Z" fill="#fff" stroke-width="1.1" /><path d="M408.6 610.5 A7.7 3.2 0 0 0 424 610.5" fill="none" stroke-width="0.88" /><path d="M408.6 612.4 A7.7 3.2 0 0 0 424 612.4" fill="none" stroke-width="0.88" /><path d="M408.6 614.3 A7.7 3.2 0 0 0 424 614.3" fill="none" stroke-width="0.88" /><path d="M408.6 616.2 A7.7 3.2 0 0 0 424 616.2" fill="none" stroke-width="0.88" /><path d="M408.6 618.1 A7.7 3.2 0 0 0 424 618.1" fill="none" stroke-width="0.88" /><path d="M408.6 608.5 C409 604.5 412 603.2 416.3 603.2 C420.6 603.2 423.6 604.5 424 608.5 A7.7 3.2 0 0 1 408.6 608.5" fill="#fff" stroke-width="1.1" /><polygon points="538,602 544.4,607 555.2,607 560,602 560,606.6 555.2,612 544.4,612 538,606.6" fill="#fff" stroke-width="1.1" /><polygon points="538,602 542,599 556,599 560,602 555.2,607 544.4,607" fill="#fff" stroke-width="1.1" /><line x1="544.4" y1="607" x2="544.4" y2="612" stroke-width="0.99" /><line x1="555.2" y1="607" x2="555.2" y2="612" stroke-width="0.99" /><path d="M541.4 592 L541.4 602.6 A7.2 3 0 0 0 555.8 602.6 L555.8 592 Z" fill="#fff" stroke-width="1.1" /><path d="M541.4 594.6 A7.2 3 0 0 0 555.8 594.6" fill="none" stroke-width="0.88" /><path d="M541.4 596.5 A7.2 3 0 0 0 555.8 596.5" fill="none" stroke-width="0.88" /><path d="M541.4 598.4 A7.2 3 0 0 0 555.8 598.4" fill="none" stroke-width="0.88" /><path d="M541.4 600.3 A7.2 3 0 0 0 555.8 600.3" fill="none" stroke-width="0.88" /><path d="M541.4 602.2 A7.2 3 0 0 0 555.8 602.2" fill="none" stroke-width="0.88" /><ellipse cx="548.6" cy="592" rx="7.2" ry="3.3" fill="#fff" stroke-width="1.1" /><ellipse cx="548.6" cy="592.2" rx="4.8" ry="2.1" fill="none" stroke-width="0.88" /><path d="M543 629 L543 634 C540 637 538 640 539.6 642.6 L548.6 648.4 L555 642.8 L556 633 L556 629 Z" fill="#fff" stroke-width="1.1" /><ellipse cx="543.5" cy="642.5" rx="10" ry="5.77" fill="#fff" stroke-width="1.1" transform="rotate(60 543.5 642.5)" /><polygon points="528.6,639.54 538.5,633.84 548.5,651.16 538.6,656.86" fill="#fff" stroke-width="0.01" stroke="none"/><line x1="528.6" y1="639.54" x2="538.5" y2="633.84" stroke-width="1.1" /><line x1="538.6" y1="656.86" x2="548.5" y2="651.16" stroke-width="1.1" /><ellipse cx="533.6" cy="648.2" rx="10" ry="5.77" fill="#fff" stroke-width="1.1" transform="rotate(60 533.6 648.2)" /><ellipse cx="533.9" cy="648" rx="7.2" ry="4.15" fill="none" stroke-width="0.99" transform="rotate(60 533.9 648)" /><ellipse cx="534.6" cy="647.6" rx="6" ry="3.46" fill="none" stroke-width="0.88" transform="rotate(60 534.6 647.6)" /><ellipse cx="535.4" cy="647.2" rx="5" ry="2.88" fill="none" stroke-width="0.88" transform="rotate(60 535.4 647.2)" /><path d="M551 636 L552.5 641 M549 638.5 L551.5 640" fill="none" stroke-width="0.88" /><path d="M541.3 620.5 L541.3 628.6 A7.5 3.2 0 0 0 556.3 628.6 L556.3 620.5 Z" fill="#151515" stroke-width="1.1" /><line x1="543.8" y1="624" x2="543.8" y2="629.7" stroke="#fff" stroke-width="0.55"/><line x1="546.3" y1="624" x2="546.3" y2="630.51" stroke="#fff" stroke-width="0.55"/><line x1="548.8" y1="624" x2="548.8" y2="630.8" stroke="#fff" stroke-width="0.55"/><line x1="551.3" y1="624" x2="551.3" y2="630.51" stroke="#fff" stroke-width="0.55"/><line x1="553.8" y1="624" x2="553.8" y2="629.7" stroke="#fff" stroke-width="0.55"/><ellipse cx="548.8" cy="620.3" rx="7.5" ry="3.3" fill="#fff" stroke-width="1.21" /><ellipse cx="548.8" cy="620.6" rx="5.3" ry="2.2" fill="none" stroke-width="0.88" /><line x1="530.5" y1="650" x2="523" y2="654.2" stroke-width="0.88" /><ellipse cx="515.8" cy="657.2" rx="10.4" ry="6" fill="#fff" stroke-width="1.1" transform="rotate(60 515.8 657.2)" /><ellipse cx="517.4" cy="656.3" rx="10.4" ry="6" fill="#fff" stroke-width="1.1" transform="rotate(60 517.4 656.3)" /><ellipse cx="517.4" cy="656.3" rx="7.4" ry="4.27" fill="#fff" stroke-width="0.99" transform="rotate(60 517.4 656.3)" /><polyline points="519.9,654.87 520.18,655.37 520.43,655.89 520.66,656.42 520.86,656.95 521.03,657.48 521.17,658.01 521.29,658.53 521.37,659.04 521.41,659.54 521.43,660.02 521.42,660.49 521.37,660.93 521.29,661.35 521.18,661.74 521.03,662.1 520.86,662.44 520.66,662.73 520.43,663 520.18,663.22 519.9,663.41 519.6,663.56 519.28,663.66 518.93,663.73 518.58,663.75 518.2,663.74 517.82,663.68 517.42,663.58 517.02,663.44 516.61,663.26 516.2,663.04 515.79,662.79 515.38,662.49 514.98,662.17 514.59,661.81 514.2,661.42 513.83,661.01 513.47,660.57 513.13,660.11 512.8,659.63 512.5,659.13" fill="none" stroke-width="0.88" /><line x1="511" y1="660" x2="507" y2="662.4" stroke-width="0.88" /><polygon points="502.73,672.18 511.13,667.38 505.67,657.82 497.27,662.62" fill="#fff" stroke="none"/><ellipse cx="508.4" cy="662.6" rx="3.03" ry="5.5" fill="#fff" stroke-width="1.1" transform="rotate(-29.74 508.4 662.6)" /><line x1="502.73" y1="672.18" x2="511.13" y2="667.38" stroke-width="1.1" /><line x1="497.27" y1="662.62" x2="505.67" y2="657.82" stroke-width="1.1" /><line x1="505.25" y1="670.74" x2="500.31" y2="660.89" stroke-width="0.94" /><line x1="506.94" y1="669.77" x2="502.01" y2="659.92" stroke-width="0.94" /><line x1="508.63" y1="668.8" x2="503.7" y2="658.95" stroke-width="0.94" /><line x1="510.33" y1="667.83" x2="505.39" y2="657.98" stroke-width="0.94" /><ellipse cx="501.2" cy="666.6" rx="9.2" ry="5.31" fill="#fff" stroke-width="1.1" transform="rotate(60 501.2 666.6)" /><polygon points="506.28,676.29 507.23,667.93 501.02,658.93 493.86,658.31 492.91,666.67 499.13,675.67" fill="#fff" stroke-width="1.1" /><polygon points="503.51,677.89 504.46,669.53 507.23,667.93 506.28,676.29" fill="#fff" stroke-width="1.1" /><polygon points="504.46,669.53 498.25,660.53 501.02,658.93 507.23,667.93" fill="#fff" stroke-width="1.1" /><polygon points="498.25,660.53 491.09,659.91 493.86,658.31 501.02,658.93" fill="#fff" stroke-width="1.1" /><polygon points="491.09,659.91 490.14,668.27 492.91,666.67 493.86,658.31" fill="#fff" stroke-width="1.1" /><polygon points="490.14,668.27 496.35,677.27 499.13,675.67 492.91,666.67" fill="#fff" stroke-width="1.1" /><polygon points="496.35,677.27 503.51,677.89 506.28,676.29 499.13,675.67" fill="#fff" stroke-width="1.1" /><polygon points="503.51,677.89 504.46,669.53 498.25,660.53 491.09,659.91 490.14,668.27 496.35,677.27" fill="#fff" stroke-width="1.1" />
<line x1="357.5" y1="161.2" x2="382.5" y2="161.2" stroke-width="1.1" /><line x1="357.5" y1="199.6" x2="384.2" y2="199.6" stroke-width="1.1" /><line x1="357.5" y1="274.3" x2="388.5" y2="274.3" stroke-width="1.1" /><line x1="507.8" y1="164.5" x2="529" y2="164.5" stroke-width="1.1" /><line x1="513.8" y1="190.3" x2="529.5" y2="190.3" stroke-width="1.1" /><line x1="570.5" y1="244.5" x2="570.5" y2="270.5" stroke-width="1.1" /><line x1="112" y1="353.3" x2="156" y2="353.3" stroke-width="1.1" /><line x1="630.5" y1="375" x2="630.5" y2="438" stroke-width="1.1" /><line x1="233.7" y1="477.5" x2="233.7" y2="497" stroke-width="1.1" /><line x1="129.7" y1="517" x2="129.7" y2="563" stroke-width="1.1" /><line x1="162.6" y1="517" x2="162.6" y2="543.5" stroke-width="1.1" /><line x1="225.8" y1="574" x2="225.8" y2="597" stroke-width="1.1" /><line x1="272.5" y1="602.5" x2="272.5" y2="627.5" stroke-width="1.1" /><line x1="596.3" y1="505.5" x2="621.8" y2="505.5" stroke-width="1.1" /><line x1="425.4" y1="593.6" x2="447.5" y2="593.6" stroke-width="1.1" /><line x1="427.6" y1="620.2" x2="447.5" y2="620.2" stroke-width="1.1" /><line x1="551" y1="608.6" x2="575.6" y2="608.6" stroke-width="1.1" /><line x1="552" y1="638.4" x2="576" y2="638.4" stroke-width="1.1" /><line x1="515.4" y1="629.4" x2="515.4" y2="648" stroke-width="1.1" /><line x1="492.5" y1="629.4" x2="492.5" y2="666" stroke-width="1.1" /><line x1="340" y1="364" x2="340" y2="402.5" stroke-width="1.1" /><line x1="436.4" y1="337" x2="436.4" y2="368.4" stroke-width="1.1" /><polyline points="357.5,320.4 375,320.4 403.6,336.6" fill="none" stroke-width="1.1" /><polyline points="504.2,199 504.2,203.4 435.8,243.6 435.8,258.6" fill="none" stroke-width="0.99" stroke-dasharray="17 3.5 2 3.5" stroke-linecap="butt"/><polyline points="547.2,283.8 564,316.5" fill="none" stroke-width="0.99" stroke-dasharray="17 3.5 2 3.5" stroke-linecap="butt"/><polyline points="192.5,443.7 186.3,443.7 229.8,521.4" fill="none" stroke-width="0.99" stroke-dasharray="17 3.5 2 3.5" stroke-linecap="butt"/><polyline points="229.8,521.4 236,533.8 217.6,544.2" fill="none" stroke-width="0.99" /><polyline points="250.2,493.6 260.6,512.6" fill="none" stroke-width="0.99" stroke-dasharray="17 3.5 2 3.5" stroke-linecap="butt"/><polyline points="465.8,548.8 465.8,580.6 548.2,580.6 548.2,590" fill="none" stroke-width="0.99" stroke-dasharray="17 3.5 2 3.5" stroke-linecap="butt"/><polyline points="171.5,541.8 178.8,537.6 190,557.4 192.6,556" fill="none" stroke-width="0.99" />
<text x="340" y="167.3" font-size="15.1" textLength="13.8" lengthAdjust="spacingAndGlyphs">17</text><text x="340" y="204.3" font-size="15.1" textLength="13.8" lengthAdjust="spacingAndGlyphs">16</text><text x="340" y="279.8" font-size="15.1" textLength="13.8" lengthAdjust="spacingAndGlyphs">18</text><text x="340" y="325.5" font-size="15.1" textLength="13.8" lengthAdjust="spacingAndGlyphs">19</text><text x="332.6" y="361.3" font-size="15.1" textLength="13.8" lengthAdjust="spacingAndGlyphs">20</text><text x="531.6" y="168.9" font-size="15.1" textLength="13.8" lengthAdjust="spacingAndGlyphs">15</text><text x="531" y="194.2" font-size="15.1" textLength="15" lengthAdjust="spacingAndGlyphs">47</text><text x="562.3" y="239.9" font-size="15.1" textLength="14.2" lengthAdjust="spacingAndGlyphs">14</text><text x="101.4" y="358.3" font-size="15.1" textLength="7" lengthAdjust="spacingAndGlyphs">8</text><text x="626.6" y="451.3" font-size="15.1" textLength="7" lengthAdjust="spacingAndGlyphs">8</text><text x="226" y="474.3" font-size="15.1" textLength="14.8" lengthAdjust="spacingAndGlyphs">23</text><text x="122.3" y="513.8" font-size="15.1" textLength="12.8" lengthAdjust="spacingAndGlyphs">11</text><text x="156" y="513.8" font-size="15.1" textLength="14.4" lengthAdjust="spacingAndGlyphs">48</text><text x="218" y="608.8" font-size="15.1" textLength="15" lengthAdjust="spacingAndGlyphs">44</text><text x="260.6" y="639.3" font-size="15.1" textLength="21.8" lengthAdjust="spacingAndGlyphs">113</text><text x="627.2" y="510.1" font-size="15.1" textLength="22.2" lengthAdjust="spacingAndGlyphs">113</text><text x="451.6" y="597.9" font-size="15.1" textLength="15" lengthAdjust="spacingAndGlyphs">65</text><text x="452" y="623.9" font-size="15.1" textLength="13.4" lengthAdjust="spacingAndGlyphs">12</text><text x="582.3" y="613.3" font-size="15.1" textLength="22.4" lengthAdjust="spacingAndGlyphs">115</text><text x="584" y="643.3" font-size="15.1" textLength="22.2" lengthAdjust="spacingAndGlyphs">116</text><text x="510.2" y="624.7" font-size="15.1" textLength="21" lengthAdjust="spacingAndGlyphs">117</text><text x="480.2" y="624.7" font-size="15.1" textLength="20.6" lengthAdjust="spacingAndGlyphs">118</text>
</svg>
<div class="clip"><div class="badge"></div></div>
<svg width="800" height="800" viewBox="0 0 800 800" style="opacity:1;will-change:auto" fill="#fff" stroke="none">
<polygon points="667.9,647.4 671.2,644.75 674.25,644.75 674.25,660.9 670.7,660.9 670.7,648.7 668.3,650.3"/>
<ellipse cx="681.85" cy="648.7" rx="3.1" ry="2.95" fill="none" stroke="#fff" stroke-width="2.65"/>
<ellipse cx="681.85" cy="656.55" rx="3.4" ry="3.3" fill="none" stroke="#fff" stroke-width="2.75"/>
<rect x="691.4" y="654.4" width="5.4" height="2.4"/>
<polygon points="702,647.4 705.4,644.75 708.4,644.75 708.4,660.9 704.9,660.9 704.9,648.7 702.4,650.3"/>
</svg>
<div class="fr" style="left:68px;top:103px;width:662px;height:4px"></div>
<div class="fr" style="left:68px;top:688.5px;width:662px;height:3.5px"></div>
<div class="fr" style="left:68px;top:103px;width:3.1px;height:589px"></div>
<div class="fr" style="left:727px;top:103px;width:3.2px;height:589px"></div>
<div class="fr" style="left:731px;top:104px;width:1px;height:588px;background:#222"></div>
</body></html>
